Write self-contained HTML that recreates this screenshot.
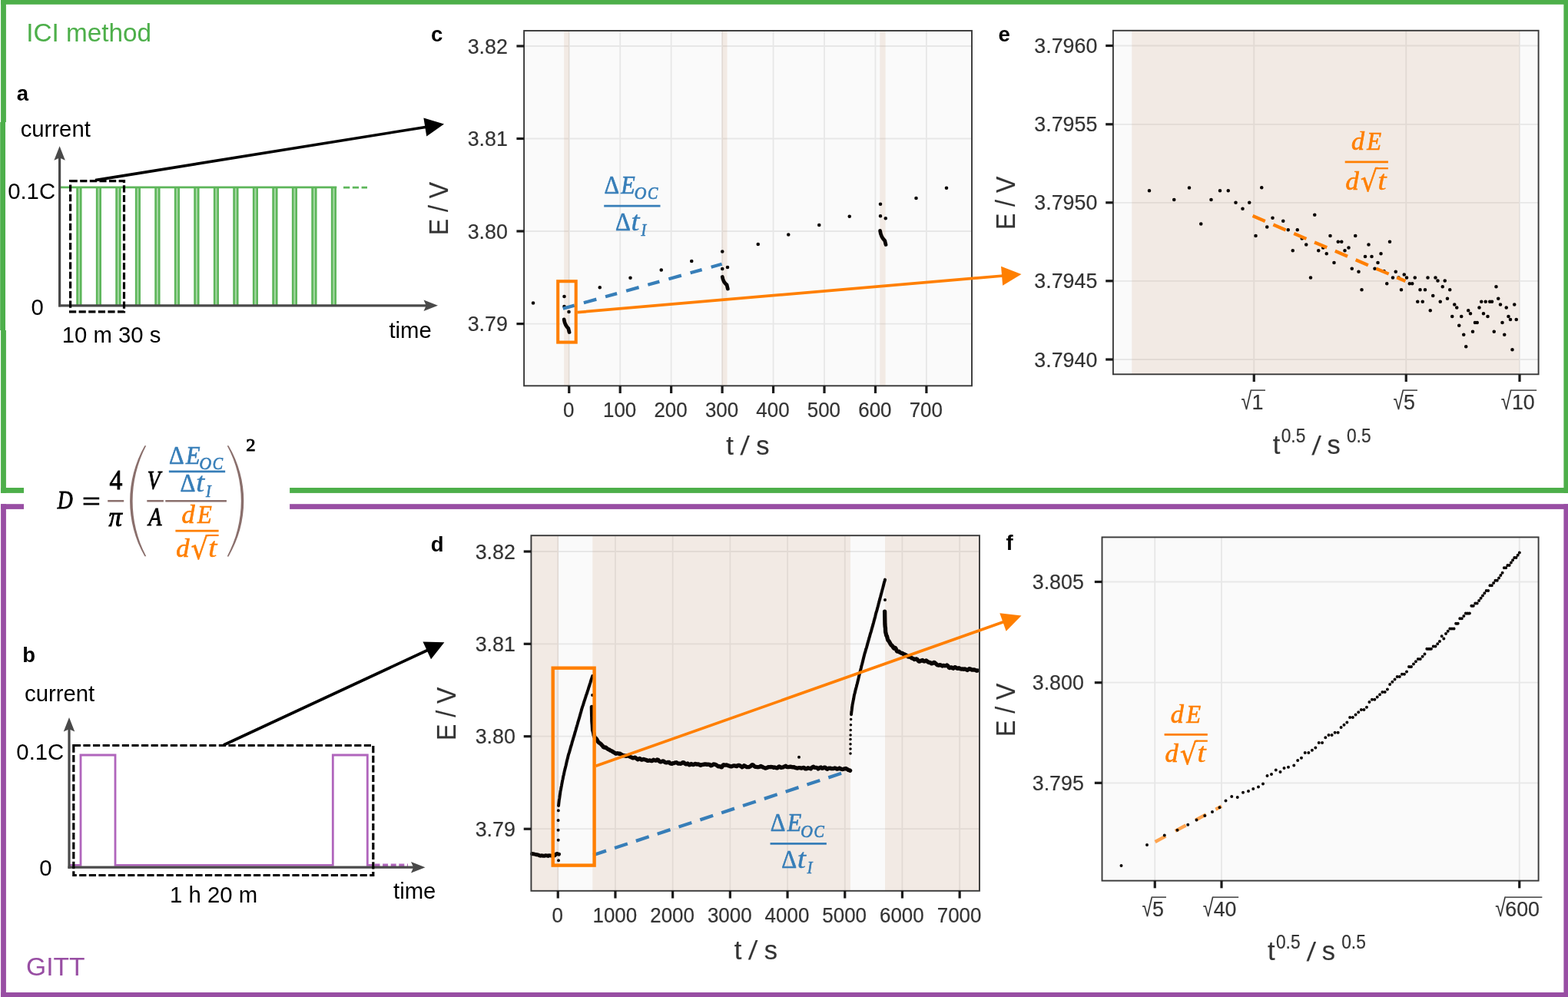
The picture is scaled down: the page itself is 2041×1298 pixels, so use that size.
<!DOCTYPE html>
<html lang="en">
<head>
<meta charset="utf-8">
<title>ICI method and GITT</title>
<style>
html,body{margin:0;padding:0;background:#fff;}
body{width:2041px;height:1298px;overflow:hidden;}
svg{display:block;}
text{white-space:pre;}
</style>
</head>
<body>
<svg width="2041" height="1298" viewBox="0 0 2041 1298" role="img" aria-label="ICI method and GITT diffusion coefficient figure">
<rect x="1.1" y="0" width="2039.9" height="5.8" fill="#4daf4a" />
<rect x="1.1" y="0" width="6.8" height="641.9" fill="#4daf4a" />
<rect x="2035.4" y="0" width="5.6" height="641.9" fill="#4daf4a" />
<rect x="1.1" y="635" width="2039.9" height="6.9" fill="#4daf4a" />
<rect x="1.1" y="656.2" width="2039.9" height="6.7" fill="#984ea3" />
<rect x="1.1" y="656.2" width="6.8" height="641.8" fill="#984ea3" />
<rect x="2035.4" y="656.2" width="5.6" height="641.8" fill="#984ea3" />
<rect x="1.1" y="1292" width="2039.9" height="6" fill="#984ea3" />
<rect x="0" y="159" width="9" height="271" fill="#fff" />
<rect x="0.2" y="159" width="6.8" height="271" fill="#4daf4a" />
<rect x="31" y="560" width="346.1" height="180" fill="#fff" />
<text x="34.13" y="54.1" font-family="'Liberation Sans', Arial, Helvetica, sans-serif" font-size="33.3" fill="#4daf4a" text-anchor="start" font-weight="normal" font-style="normal" >ICI method</text>
<text x="34.11" y="1270.3" font-family="'Liberation Sans', Arial, Helvetica, sans-serif" font-size="33.6" fill="#984ea3" text-anchor="start" font-weight="normal" font-style="normal" >GITT</text>
<defs><filter id="soft" x="-5%" y="-5%" width="110%" height="110%"><feGaussianBlur stdDeviation="0.55"/></filter></defs>
<g id="panel-a">
<text x="21.69" y="130.8" font-family="'Liberation Sans', Arial, Helvetica, sans-serif" font-size="27.5" fill="#000" text-anchor="start" font-weight="bold" font-style="normal" >a</text>
<text x="26.66" y="177.5" font-family="'Liberation Sans', Arial, Helvetica, sans-serif" font-size="29.3" fill="#000" text-anchor="start" font-weight="normal" font-style="normal" >current</text>
<text x="10.16" y="258.5" font-family="'Liberation Sans', Arial, Helvetica, sans-serif" font-size="29.3" fill="#000" text-anchor="start" font-weight="normal" font-style="normal" >0.1C</text>
<text x="40.56" y="410" font-family="'Liberation Sans', Arial, Helvetica, sans-serif" font-size="29.3" fill="#000" text-anchor="start" font-weight="normal" font-style="normal" >0</text>
<text x="80.77" y="446" font-family="'Liberation Sans', Arial, Helvetica, sans-serif" font-size="29.3" fill="#000" text-anchor="start" font-weight="normal" font-style="normal" >10 m 30 s</text>
<text x="506.46" y="440" font-family="'Liberation Sans', Arial, Helvetica, sans-serif" font-size="29.3" fill="#000" text-anchor="start" font-weight="normal" font-style="normal" >time</text>
<g filter="url(#soft)">
<rect x="99.5" y="244" width="6.8" height="153" fill="#a5d8a3" />
<line x1="100.6" y1="243.7" x2="100.6" y2="397" stroke="#5db65a" stroke-width="2.5" />
<line x1="105.2" y1="243.7" x2="105.2" y2="397" stroke="#5db65a" stroke-width="2.5" />
<rect x="125" y="244" width="6.8" height="153" fill="#a5d8a3" />
<line x1="126.1" y1="243.7" x2="126.1" y2="397" stroke="#5db65a" stroke-width="2.5" />
<line x1="130.7" y1="243.7" x2="130.7" y2="397" stroke="#5db65a" stroke-width="2.5" />
<rect x="150.5" y="244" width="6.8" height="153" fill="#a5d8a3" />
<line x1="151.6" y1="243.7" x2="151.6" y2="397" stroke="#5db65a" stroke-width="2.5" />
<line x1="156.2" y1="243.7" x2="156.2" y2="397" stroke="#5db65a" stroke-width="2.5" />
<rect x="176" y="244" width="6.8" height="153" fill="#a5d8a3" />
<line x1="177.1" y1="243.7" x2="177.1" y2="397" stroke="#5db65a" stroke-width="2.5" />
<line x1="181.7" y1="243.7" x2="181.7" y2="397" stroke="#5db65a" stroke-width="2.5" />
<rect x="201.5" y="244" width="6.8" height="153" fill="#a5d8a3" />
<line x1="202.6" y1="243.7" x2="202.6" y2="397" stroke="#5db65a" stroke-width="2.5" />
<line x1="207.2" y1="243.7" x2="207.2" y2="397" stroke="#5db65a" stroke-width="2.5" />
<rect x="227" y="244" width="6.8" height="153" fill="#a5d8a3" />
<line x1="228.1" y1="243.7" x2="228.1" y2="397" stroke="#5db65a" stroke-width="2.5" />
<line x1="232.7" y1="243.7" x2="232.7" y2="397" stroke="#5db65a" stroke-width="2.5" />
<rect x="252.5" y="244" width="6.8" height="153" fill="#a5d8a3" />
<line x1="253.6" y1="243.7" x2="253.6" y2="397" stroke="#5db65a" stroke-width="2.5" />
<line x1="258.2" y1="243.7" x2="258.2" y2="397" stroke="#5db65a" stroke-width="2.5" />
<rect x="278" y="244" width="6.8" height="153" fill="#a5d8a3" />
<line x1="279.1" y1="243.7" x2="279.1" y2="397" stroke="#5db65a" stroke-width="2.5" />
<line x1="283.7" y1="243.7" x2="283.7" y2="397" stroke="#5db65a" stroke-width="2.5" />
<rect x="303.5" y="244" width="6.8" height="153" fill="#a5d8a3" />
<line x1="304.6" y1="243.7" x2="304.6" y2="397" stroke="#5db65a" stroke-width="2.5" />
<line x1="309.2" y1="243.7" x2="309.2" y2="397" stroke="#5db65a" stroke-width="2.5" />
<rect x="329" y="244" width="6.8" height="153" fill="#a5d8a3" />
<line x1="330.1" y1="243.7" x2="330.1" y2="397" stroke="#5db65a" stroke-width="2.5" />
<line x1="334.7" y1="243.7" x2="334.7" y2="397" stroke="#5db65a" stroke-width="2.5" />
<rect x="354.5" y="244" width="6.8" height="153" fill="#a5d8a3" />
<line x1="355.6" y1="243.7" x2="355.6" y2="397" stroke="#5db65a" stroke-width="2.5" />
<line x1="360.2" y1="243.7" x2="360.2" y2="397" stroke="#5db65a" stroke-width="2.5" />
<rect x="380" y="244" width="6.8" height="153" fill="#a5d8a3" />
<line x1="381.1" y1="243.7" x2="381.1" y2="397" stroke="#5db65a" stroke-width="2.5" />
<line x1="385.7" y1="243.7" x2="385.7" y2="397" stroke="#5db65a" stroke-width="2.5" />
<rect x="405.5" y="244" width="6.8" height="153" fill="#a5d8a3" />
<line x1="406.6" y1="243.7" x2="406.6" y2="397" stroke="#5db65a" stroke-width="2.5" />
<line x1="411.2" y1="243.7" x2="411.2" y2="397" stroke="#5db65a" stroke-width="2.5" />
<rect x="431" y="244" width="6.8" height="153" fill="#a5d8a3" />
<line x1="432.1" y1="243.7" x2="432.1" y2="397" stroke="#5db65a" stroke-width="2.5" />
<line x1="436.7" y1="243.7" x2="436.7" y2="397" stroke="#5db65a" stroke-width="2.5" />
<line x1="79" y1="243.8" x2="438.3" y2="243.8" stroke="#5db65a" stroke-width="2.8" />
<line x1="447" y1="244.1" x2="478" y2="244.1" stroke="#5db65a" stroke-width="2.8" stroke-dasharray="8.3 3.5"/>
<line x1="77.6" y1="200" x2="77.6" y2="399.3" stroke="#4a4a4a" stroke-width="3.2" />
<line x1="76.1" y1="397.8" x2="560" y2="397.8" stroke="#4a4a4a" stroke-width="3.2" />
<polygon points="77.6,190.3 84.85,208.8 77.6,205.6 70.35,208.8" fill="#4a4a4a"/>
<polygon points="570,397.8 551.5,405.05 554.7,397.8 551.5,390.55" fill="#4a4a4a"/>
</g>
<rect x="91.6" y="235.6" width="69.9" height="170.2" fill="none" stroke="#000" stroke-width="3.2" stroke-dasharray="9.2 3.4"/>
<line x1="124" y1="234.6" x2="555.29" y2="165.16" stroke="#000" stroke-width="3.6" />
<polygon points="578,161.5 555.27,177.57 551.37,153.38" fill="#000"/>
</g>
<g id="panel-b">
<text x="29.19" y="861.7" font-family="'Liberation Sans', Arial, Helvetica, sans-serif" font-size="27.5" fill="#000" text-anchor="start" font-weight="bold" font-style="normal" >b</text>
<text x="32.06" y="912.5" font-family="'Liberation Sans', Arial, Helvetica, sans-serif" font-size="29.3" fill="#000" text-anchor="start" font-weight="normal" font-style="normal" >current</text>
<text x="21.36" y="989" font-family="'Liberation Sans', Arial, Helvetica, sans-serif" font-size="29.3" fill="#000" text-anchor="start" font-weight="normal" font-style="normal" >0.1C</text>
<text x="51.36" y="1139.5" font-family="'Liberation Sans', Arial, Helvetica, sans-serif" font-size="29.3" fill="#000" text-anchor="start" font-weight="normal" font-style="normal" >0</text>
<text x="221.07" y="1175.3" font-family="'Liberation Sans', Arial, Helvetica, sans-serif" font-size="29.3" fill="#000" text-anchor="start" font-weight="normal" font-style="normal" >1 h 20 m</text>
<text x="512.06" y="1170" font-family="'Liberation Sans', Arial, Helvetica, sans-serif" font-size="29.3" fill="#000" text-anchor="start" font-weight="normal" font-style="normal" >time</text>
<g filter="url(#soft)">
<polyline points="91,1126.4 105,1126.4 105,983 150,983 150,1126.4 433.3,1126.4 433.3,983 478.3,983 478.3,1126.4 486,1126.4" fill="none" stroke="#b065bc" stroke-width="2.8" stroke-linejoin="miter"/>
<line x1="487.5" y1="1126.2" x2="531" y2="1126.2" stroke="#b065bc" stroke-width="3.4" stroke-dasharray="7 3.6"/>
<line x1="90" y1="944" x2="90" y2="1130.7" stroke="#4a4a4a" stroke-width="3.2" />
<line x1="88.5" y1="1129.2" x2="544" y2="1129.2" stroke="#4a4a4a" stroke-width="3.2" />
<polygon points="90,934 97.25,952.5 90,949.3 82.75,952.5" fill="#4a4a4a"/>
<polygon points="553.5,1129.2 535,1136.45 538.2,1129.2 535,1121.95" fill="#4a4a4a"/>
</g>
<rect x="95.8" y="970.5" width="390" height="169" fill="none" stroke="#000" stroke-width="3.2" stroke-dasharray="9.2 3.4"/>
<line x1="291" y1="970" x2="557.55" y2="846" stroke="#000" stroke-width="3.7" />
<polygon points="578.4,836.3 561.01,858.18 550.46,835.51" fill="#000"/>
</g>
<g id="formula">
<text transform="translate(74.77,661.8) scale(0.807,1)" font-family="'Liberation Serif', 'DejaVu Serif', serif" font-size="34.3" font-style="italic" fill="#000" stroke="#000" stroke-width="0.9">D</text>
<text transform="translate(107.02,664.7) scale(1.152,1)" font-family="'Liberation Serif', 'DejaVu Serif', serif" font-size="36.5" font-style="normal" fill="#000" stroke="#000" stroke-width="0.9">=</text>
<text transform="translate(142.38,636.9) scale(0.961,1)" font-family="'Liberation Serif', 'DejaVu Serif', serif" font-size="35" font-style="normal" fill="#000" stroke="#000" stroke-width="0.9">4</text>
<line x1="140.2" y1="652.2" x2="161.2" y2="652.2" stroke="#8a6f6c" stroke-width="2.5" />
<text transform="translate(141.56,684.5) scale(0.987,1)" font-family="'Liberation Serif', 'DejaVu Serif', serif" font-size="35" font-style="italic" fill="#000" stroke="#000" stroke-width="0.9">π</text>
<path d="M188.35,580.3 C162.77,625.3 162.77,679.2 188.35,724.2 L190.25,724.2 C166.77,679.2 166.77,625.3 190.25,580.3 Z" fill="#8a6f6c"/>
<text transform="translate(191.82,636.2) scale(0.812,1)" font-family="'Liberation Serif', 'DejaVu Serif', serif" font-size="34" font-style="italic" fill="#000" stroke="#000" stroke-width="0.9">V</text>
<line x1="191.3" y1="652.2" x2="212.9" y2="652.2" stroke="#8a6f6c" stroke-width="2.5" />
<text transform="translate(193.21,684.4) scale(0.829,1)" font-family="'Liberation Serif', 'DejaVu Serif', serif" font-size="34" font-style="italic" fill="#000" stroke="#000" stroke-width="0.9">A</text>
<line x1="215.3" y1="652.2" x2="294.9" y2="652.2" stroke="#8a6f6c" stroke-width="2.5" />
<text transform="translate(220.05,603.9) scale(0.895,1)" font-family="'Liberation Serif', 'DejaVu Serif', serif" font-size="34" font-style="normal" fill="#377eb8" stroke="#377eb8" stroke-width="0.7">Δ</text>
<text transform="translate(242.02,603.9) scale(0.891,1)" font-family="'Liberation Serif', 'DejaVu Serif', serif" font-size="34" font-style="italic" fill="#377eb8" stroke="#377eb8" stroke-width="0.7">E</text>
<text transform="translate(259.48,611.1) scale(0.926,1)" font-family="'Liberation Serif', 'DejaVu Serif', serif" font-size="23.4" font-style="italic" fill="#377eb8" stroke="#377eb8" stroke-width="0.7">O</text>
<text transform="translate(276.74,611.1) scale(0.854,1)" font-family="'Liberation Serif', 'DejaVu Serif', serif" font-size="23.4" font-style="italic" fill="#377eb8" stroke="#377eb8" stroke-width="0.7">C</text>
<line x1="219.85" y1="613.9" x2="293.15" y2="613.9" stroke="#377eb8" stroke-width="2.7" />
<text transform="translate(234.59,640.05) scale(0.910,1)" font-family="'Liberation Serif', 'DejaVu Serif', serif" font-size="34" font-style="normal" fill="#377eb8" stroke="#377eb8" stroke-width="0.7">Δ</text>
<text transform="translate(255,640.05) scale(1.154,1)" font-family="'Liberation Serif', 'DejaVu Serif', serif" font-size="35" font-style="italic" fill="#377eb8" stroke="#377eb8" stroke-width="0.3">t</text>
<text transform="translate(268.07,646.95) scale(0.840,1)" font-family="'Liberation Serif', 'DejaVu Serif', serif" font-size="23.8" font-style="italic" fill="#377eb8" stroke="#377eb8" stroke-width="0.7">I</text>
<text transform="translate(236.62,681.3) scale(1.003,1)" font-family="'Liberation Serif', 'DejaVu Serif', serif" font-size="34" font-style="italic" fill="#ff7f00" stroke="#ff7f00" stroke-width="0.7">d</text>
<text transform="translate(256.98,681.3) scale(0.905,1)" font-family="'Liberation Serif', 'DejaVu Serif', serif" font-size="34" font-style="italic" fill="#ff7f00" stroke="#ff7f00" stroke-width="0.7">E</text>
<line x1="228.4" y1="691.1" x2="284.6" y2="691.1" stroke="#ff7f00" stroke-width="2.7" />
<text transform="translate(229.21,724.9) scale(1.015,1)" font-family="'Liberation Serif', 'DejaVu Serif', serif" font-size="34" font-style="italic" fill="#ff7f00" stroke="#ff7f00" stroke-width="0.7">d</text>
<text transform="translate(248.46,727.67) scale(0.921,1)" font-family="'DejaVu Sans', 'Liberation Sans', sans-serif" font-size="38.87" fill="#ff7f00" stroke="#ff7f00" stroke-width="0.5">√</text>
<line x1="269.7" y1="697" x2="284.6" y2="697" stroke="#ff7f00" stroke-width="2.2" />
<text transform="translate(271.07,724.9) scale(1.176,1)" font-family="'Liberation Serif', 'DejaVu Serif', serif" font-size="35" font-style="italic" fill="#ff7f00" stroke="#ff7f00" stroke-width="0.3">t</text>
<path d="M297.55,580.3 C323.93,625.3 323.93,679.4 297.55,724.4 L295.65,724.4 C319.93,679.4 319.93,625.3 295.65,580.3 Z" fill="#8a6f6c"/>
<text transform="translate(320.35,587.4) scale(1.095,1)" font-family="'Liberation Serif', 'DejaVu Serif', serif" font-size="22.6" font-style="normal" fill="#000" stroke="#000" stroke-width="0.8">2</text>
</g>
<g id="panel-c">
<text x="560.93" y="53.8" font-family="'Liberation Sans', Arial, Helvetica, sans-serif" font-size="27.5" fill="#000" text-anchor="start" font-weight="bold" font-style="normal" >c</text>
<rect x="682.1" y="40" width="582.9" height="462.3" fill="#fafafa" />
<line x1="740.75" y1="40" x2="740.75" y2="502.3" stroke="#e7e7e7" stroke-width="1.8" />
<line x1="807.2" y1="40" x2="807.2" y2="502.3" stroke="#e7e7e7" stroke-width="1.8" />
<line x1="873.65" y1="40" x2="873.65" y2="502.3" stroke="#e7e7e7" stroke-width="1.8" />
<line x1="940.1" y1="40" x2="940.1" y2="502.3" stroke="#e7e7e7" stroke-width="1.8" />
<line x1="1006.55" y1="40" x2="1006.55" y2="502.3" stroke="#e7e7e7" stroke-width="1.8" />
<line x1="1073" y1="40" x2="1073" y2="502.3" stroke="#e7e7e7" stroke-width="1.8" />
<line x1="1139.45" y1="40" x2="1139.45" y2="502.3" stroke="#e7e7e7" stroke-width="1.8" />
<line x1="1205.9" y1="40" x2="1205.9" y2="502.3" stroke="#e7e7e7" stroke-width="1.8" />
<line x1="682.1" y1="60" x2="1265" y2="60" stroke="#e7e7e7" stroke-width="1.8" />
<line x1="682.1" y1="180.5" x2="1265" y2="180.5" stroke="#e7e7e7" stroke-width="1.8" />
<line x1="682.1" y1="301" x2="1265" y2="301" stroke="#e7e7e7" stroke-width="1.8" />
<line x1="682.1" y1="421.6" x2="1265" y2="421.6" stroke="#e7e7e7" stroke-width="1.8" />
<rect x="734.2" y="40" width="6.8" height="462.3" fill="rgb(210,170,140)" fill-opacity="0.2"/>
<rect x="939.5" y="40" width="7" height="462.3" fill="rgb(210,170,140)" fill-opacity="0.2"/>
<rect x="1145.3" y="40" width="7.3" height="462.3" fill="rgb(210,170,140)" fill-opacity="0.2"/>
<path d="M691.7,394.5a2.3,2.3 0 1,0 4.6,0a2.3,2.3 0 1,0 -4.6,0zM732.2,386a2.3,2.3 0 1,0 4.6,0a2.3,2.3 0 1,0 -4.6,0zM732.2,399a2.3,2.3 0 1,0 4.6,0a2.3,2.3 0 1,0 -4.6,0zM738.2,406a2.3,2.3 0 1,0 4.6,0a2.3,2.3 0 1,0 -4.6,0zM778.45,374.25a2.3,2.3 0 1,0 4.6,0a2.3,2.3 0 1,0 -4.6,0zM818.2,361.75a2.3,2.3 0 1,0 4.6,0a2.3,2.3 0 1,0 -4.6,0zM858.45,351.5a2.3,2.3 0 1,0 4.6,0a2.3,2.3 0 1,0 -4.6,0zM897.95,340a2.3,2.3 0 1,0 4.6,0a2.3,2.3 0 1,0 -4.6,0zM937.95,327.5a2.3,2.3 0 1,0 4.6,0a2.3,2.3 0 1,0 -4.6,0zM937.95,350a2.3,2.3 0 1,0 4.6,0a2.3,2.3 0 1,0 -4.6,0zM944.7,348a2.3,2.3 0 1,0 4.6,0a2.3,2.3 0 1,0 -4.6,0zM984.45,318a2.3,2.3 0 1,0 4.6,0a2.3,2.3 0 1,0 -4.6,0zM1023.95,305.5a2.3,2.3 0 1,0 4.6,0a2.3,2.3 0 1,0 -4.6,0zM1063.95,293a2.3,2.3 0 1,0 4.6,0a2.3,2.3 0 1,0 -4.6,0zM1103.45,281.75a2.3,2.3 0 1,0 4.6,0a2.3,2.3 0 1,0 -4.6,0zM1143.7,265.75a2.3,2.3 0 1,0 4.6,0a2.3,2.3 0 1,0 -4.6,0zM1143.7,281.25a2.3,2.3 0 1,0 4.6,0a2.3,2.3 0 1,0 -4.6,0zM1150.45,284.25a2.3,2.3 0 1,0 4.6,0a2.3,2.3 0 1,0 -4.6,0zM1190.2,258a2.3,2.3 0 1,0 4.6,0a2.3,2.3 0 1,0 -4.6,0zM1229.7,244.75a2.3,2.3 0 1,0 4.6,0a2.3,2.3 0 1,0 -4.6,0z" fill="#0a0503"/>
<path d="M734.2,416 Q735.2,423.25 739.8,427.5 L741,432.5" fill="none" stroke="#0a0503" stroke-width="4.8" stroke-linecap="round" stroke-linejoin="round"/>
<path d="M940.3,360.5 Q941.3,367.25 946.1,371 L947.3,376" fill="none" stroke="#0a0503" stroke-width="4.8" stroke-linecap="round" stroke-linejoin="round"/>
<path d="M1145.6,300.5 Q1146.6,308.5 1151.8,313.5 L1153,318.5" fill="none" stroke="#0a0503" stroke-width="4.8" stroke-linecap="round" stroke-linejoin="round"/>
<rect x="682.1" y="40" width="582.9" height="462.3" fill="none" stroke="#383838" stroke-width="1.9"/>
<line x1="740.75" y1="502.3" x2="740.75" y2="512" stroke="#1a1a1a" stroke-width="3.2" />
<line x1="807.2" y1="502.3" x2="807.2" y2="512" stroke="#1a1a1a" stroke-width="3.2" />
<line x1="873.65" y1="502.3" x2="873.65" y2="512" stroke="#1a1a1a" stroke-width="3.2" />
<line x1="940.1" y1="502.3" x2="940.1" y2="512" stroke="#1a1a1a" stroke-width="3.2" />
<line x1="1006.55" y1="502.3" x2="1006.55" y2="512" stroke="#1a1a1a" stroke-width="3.2" />
<line x1="1073" y1="502.3" x2="1073" y2="512" stroke="#1a1a1a" stroke-width="3.2" />
<line x1="1139.45" y1="502.3" x2="1139.45" y2="512" stroke="#1a1a1a" stroke-width="3.2" />
<line x1="1205.9" y1="502.3" x2="1205.9" y2="512" stroke="#1a1a1a" stroke-width="3.2" />
<line x1="672.4" y1="60" x2="682.1" y2="60" stroke="#1a1a1a" stroke-width="3.2" />
<line x1="672.4" y1="180.5" x2="682.1" y2="180.5" stroke="#1a1a1a" stroke-width="3.2" />
<line x1="672.4" y1="301" x2="682.1" y2="301" stroke="#1a1a1a" stroke-width="3.2" />
<line x1="672.4" y1="421.6" x2="682.1" y2="421.6" stroke="#1a1a1a" stroke-width="3.2" />
<line x1="732.8" y1="401.8" x2="939.6" y2="343.8" stroke="#377eb8" stroke-width="4.3" stroke-dasharray="15.6 12.5 17.1 12.2"/>
<rect x="726.2" y="366.2" width="23.5" height="79.4" fill="none" stroke="#ff7f00" stroke-width="4.1"/>
<line x1="751.5" y1="406.6" x2="1306.09" y2="359.01" stroke="#ff7f00" stroke-width="3.7" />
<polygon points="1329.5,357 1305.16,371.63 1303.02,346.73" fill="#ff7f00"/>
<text transform="translate(786.4,252.2) scale(0.895,1)" font-family="'Liberation Serif', 'DejaVu Serif', serif" font-size="34" font-style="normal" fill="#377eb8" stroke="#377eb8" stroke-width="0.7">Δ</text>
<text transform="translate(808.37,252.2) scale(0.891,1)" font-family="'Liberation Serif', 'DejaVu Serif', serif" font-size="34" font-style="italic" fill="#377eb8" stroke="#377eb8" stroke-width="0.7">E</text>
<text transform="translate(825.83,259.4) scale(0.926,1)" font-family="'Liberation Serif', 'DejaVu Serif', serif" font-size="23.4" font-style="italic" fill="#377eb8" stroke="#377eb8" stroke-width="0.7">O</text>
<text transform="translate(843.09,259.4) scale(0.854,1)" font-family="'Liberation Serif', 'DejaVu Serif', serif" font-size="23.4" font-style="italic" fill="#377eb8" stroke="#377eb8" stroke-width="0.7">C</text>
<line x1="786.2" y1="268.1" x2="859.5" y2="268.1" stroke="#377eb8" stroke-width="2.7" />
<text transform="translate(800.94,299.8) scale(0.910,1)" font-family="'Liberation Serif', 'DejaVu Serif', serif" font-size="34" font-style="normal" fill="#377eb8" stroke="#377eb8" stroke-width="0.7">Δ</text>
<text transform="translate(821.35,299.8) scale(1.154,1)" font-family="'Liberation Serif', 'DejaVu Serif', serif" font-size="35" font-style="italic" fill="#377eb8" stroke="#377eb8" stroke-width="0.3">t</text>
<text transform="translate(834.42,306.7) scale(0.840,1)" font-family="'Liberation Serif', 'DejaVu Serif', serif" font-size="23.8" font-style="italic" fill="#377eb8" stroke="#377eb8" stroke-width="0.7">I</text>
<text x="660.8" y="69.5" font-family="'Liberation Sans', Arial, Helvetica, sans-serif" font-size="26.8" fill="#333333" text-anchor="end" font-weight="normal" font-style="normal" stroke="#333333" stroke-width="0.2">3.82</text>
<text x="660.8" y="190" font-family="'Liberation Sans', Arial, Helvetica, sans-serif" font-size="26.8" fill="#333333" text-anchor="end" font-weight="normal" font-style="normal" stroke="#333333" stroke-width="0.2">3.81</text>
<text x="660.8" y="310.5" font-family="'Liberation Sans', Arial, Helvetica, sans-serif" font-size="26.8" fill="#333333" text-anchor="end" font-weight="normal" font-style="normal" stroke="#333333" stroke-width="0.2">3.80</text>
<text x="660.8" y="431.1" font-family="'Liberation Sans', Arial, Helvetica, sans-serif" font-size="26.8" fill="#333333" text-anchor="end" font-weight="normal" font-style="normal" stroke="#333333" stroke-width="0.2">3.79</text>
<text transform="translate(740.15,543.1) scale(0.968,1)" font-family="'Liberation Sans', Arial, Helvetica, sans-serif" font-size="26.8" fill="#333333" text-anchor="middle" stroke="#333333" stroke-width="0.2">0</text>
<text transform="translate(806.6,543.1) scale(0.968,1)" font-family="'Liberation Sans', Arial, Helvetica, sans-serif" font-size="26.8" fill="#333333" text-anchor="middle" stroke="#333333" stroke-width="0.2">100</text>
<text transform="translate(873.05,543.1) scale(0.968,1)" font-family="'Liberation Sans', Arial, Helvetica, sans-serif" font-size="26.8" fill="#333333" text-anchor="middle" stroke="#333333" stroke-width="0.2">200</text>
<text transform="translate(939.5,543.1) scale(0.968,1)" font-family="'Liberation Sans', Arial, Helvetica, sans-serif" font-size="26.8" fill="#333333" text-anchor="middle" stroke="#333333" stroke-width="0.2">300</text>
<text transform="translate(1005.95,543.1) scale(0.968,1)" font-family="'Liberation Sans', Arial, Helvetica, sans-serif" font-size="26.8" fill="#333333" text-anchor="middle" stroke="#333333" stroke-width="0.2">400</text>
<text transform="translate(1072.4,543.1) scale(0.968,1)" font-family="'Liberation Sans', Arial, Helvetica, sans-serif" font-size="26.8" fill="#333333" text-anchor="middle" stroke="#333333" stroke-width="0.2">500</text>
<text transform="translate(1138.85,543.1) scale(0.968,1)" font-family="'Liberation Sans', Arial, Helvetica, sans-serif" font-size="26.8" fill="#333333" text-anchor="middle" stroke="#333333" stroke-width="0.2">600</text>
<text transform="translate(1205.3,543.1) scale(0.968,1)" font-family="'Liberation Sans', Arial, Helvetica, sans-serif" font-size="26.8" fill="#333333" text-anchor="middle" stroke="#333333" stroke-width="0.2">700</text>
<text transform="translate(583.3,306.29) rotate(-90) scale(0.914,1)" font-family="'Liberation Sans', Arial, Helvetica, sans-serif" font-size="35" fill="#333333" stroke="#333333" stroke-width="0.2">E / V</text>
<text transform="translate(945.18,591.5) scale(1.0,1)" font-family="'Liberation Sans', Arial, Helvetica, sans-serif" font-size="34.5" fill="#333333" stroke="#333333" stroke-width="0.2">t</text>
<text transform="translate(963.5,592) skewX(-6.2)" font-family="'Liberation Sans', Arial, Helvetica, sans-serif" font-size="34.5" fill="#333333" stroke="#333333" stroke-width="0.2">/</text>
<text transform="translate(984.34,591.5) scale(1.0,1)" font-family="'Liberation Sans', Arial, Helvetica, sans-serif" font-size="34.5" fill="#333333" stroke="#333333" stroke-width="0.2">s</text>
</g>
<g id="panel-e">
<text x="1299.43" y="53.8" font-family="'Liberation Sans', Arial, Helvetica, sans-serif" font-size="27.5" fill="#000" text-anchor="start" font-weight="bold" font-style="normal" >e</text>
<rect x="1448.9" y="39.8" width="553.7" height="447.5" fill="#fafafa" />
<line x1="1632.25" y1="39.8" x2="1632.25" y2="487.3" stroke="#e7e7e7" stroke-width="1.8" />
<line x1="1830.25" y1="39.8" x2="1830.25" y2="487.3" stroke="#e7e7e7" stroke-width="1.8" />
<line x1="1978" y1="39.8" x2="1978" y2="487.3" stroke="#e7e7e7" stroke-width="1.8" />
<line x1="1448.9" y1="59.5" x2="2002.6" y2="59.5" stroke="#e7e7e7" stroke-width="1.8" />
<line x1="1448.9" y1="161.8" x2="2002.6" y2="161.8" stroke="#e7e7e7" stroke-width="1.8" />
<line x1="1448.9" y1="263.8" x2="2002.6" y2="263.8" stroke="#e7e7e7" stroke-width="1.8" />
<line x1="1448.9" y1="365.8" x2="2002.6" y2="365.8" stroke="#e7e7e7" stroke-width="1.8" />
<line x1="1448.9" y1="468" x2="2002.6" y2="468" stroke="#e7e7e7" stroke-width="1.8" />
<rect x="1473.3" y="39.8" width="504.5" height="447.5" fill="rgb(210,170,140)" fill-opacity="0.2"/>
<path d="M1493.7,248.25a2.3,2.3 0 1,0 4.6,0a2.3,2.3 0 1,0 -4.6,0zM1525.95,260a2.3,2.3 0 1,0 4.6,0a2.3,2.3 0 1,0 -4.6,0zM1545.7,244.5a2.3,2.3 0 1,0 4.6,0a2.3,2.3 0 1,0 -4.6,0zM1560.95,291.5a2.3,2.3 0 1,0 4.6,0a2.3,2.3 0 1,0 -4.6,0zM1574.2,260a2.3,2.3 0 1,0 4.6,0a2.3,2.3 0 1,0 -4.6,0zM1585.7,248.25a2.3,2.3 0 1,0 4.6,0a2.3,2.3 0 1,0 -4.6,0zM1596.45,248.25a2.3,2.3 0 1,0 4.6,0a2.3,2.3 0 1,0 -4.6,0zM1606.2,263.75a2.3,2.3 0 1,0 4.6,0a2.3,2.3 0 1,0 -4.6,0zM1615.2,271.75a2.3,2.3 0 1,0 4.6,0a2.3,2.3 0 1,0 -4.6,0zM1623.95,263.75a2.3,2.3 0 1,0 4.6,0a2.3,2.3 0 1,0 -4.6,0zM1632.2,307a2.3,2.3 0 1,0 4.6,0a2.3,2.3 0 1,0 -4.6,0zM1639.95,244.25a2.3,2.3 0 1,0 4.6,0a2.3,2.3 0 1,0 -4.6,0zM1646.95,295.5a2.3,2.3 0 1,0 4.6,0a2.3,2.3 0 1,0 -4.6,0zM1654.2,283.75a2.3,2.3 0 1,0 4.6,0a2.3,2.3 0 1,0 -4.6,0zM1667.95,287.75a2.3,2.3 0 1,0 4.6,0a2.3,2.3 0 1,0 -4.6,0zM1674.45,299.25a2.3,2.3 0 1,0 4.6,0a2.3,2.3 0 1,0 -4.6,0zM1680.45,326.25a2.3,2.3 0 1,0 4.6,0a2.3,2.3 0 1,0 -4.6,0zM1686.45,299.25a2.3,2.3 0 1,0 4.6,0a2.3,2.3 0 1,0 -4.6,0zM1692.45,310.5a2.3,2.3 0 1,0 4.6,0a2.3,2.3 0 1,0 -4.6,0zM1697.95,318.5a2.3,2.3 0 1,0 4.6,0a2.3,2.3 0 1,0 -4.6,0zM1703.7,361.5a2.3,2.3 0 1,0 4.6,0a2.3,2.3 0 1,0 -4.6,0zM1708.95,279.75a2.3,2.3 0 1,0 4.6,0a2.3,2.3 0 1,0 -4.6,0zM1713.95,326.25a2.3,2.3 0 1,0 4.6,0a2.3,2.3 0 1,0 -4.6,0zM1719.95,322.5a2.3,2.3 0 1,0 4.6,0a2.3,2.3 0 1,0 -4.6,0zM1724.45,330.25a2.3,2.3 0 1,0 4.6,0a2.3,2.3 0 1,0 -4.6,0zM1729.2,307a2.3,2.3 0 1,0 4.6,0a2.3,2.3 0 1,0 -4.6,0zM1734.2,342a2.3,2.3 0 1,0 4.6,0a2.3,2.3 0 1,0 -4.6,0zM1739.45,314.75a2.3,2.3 0 1,0 4.6,0a2.3,2.3 0 1,0 -4.6,0zM1743.95,314.75a2.3,2.3 0 1,0 4.6,0a2.3,2.3 0 1,0 -4.6,0zM1748.2,326.25a2.3,2.3 0 1,0 4.6,0a2.3,2.3 0 1,0 -4.6,0zM1753.2,322.5a2.3,2.3 0 1,0 4.6,0a2.3,2.3 0 1,0 -4.6,0zM1757.45,349.75a2.3,2.3 0 1,0 4.6,0a2.3,2.3 0 1,0 -4.6,0zM1761.95,307a2.3,2.3 0 1,0 4.6,0a2.3,2.3 0 1,0 -4.6,0zM1766.2,353.75a2.3,2.3 0 1,0 4.6,0a2.3,2.3 0 1,0 -4.6,0zM1770.2,377.25a2.3,2.3 0 1,0 4.6,0a2.3,2.3 0 1,0 -4.6,0zM1774.7,334a2.3,2.3 0 1,0 4.6,0a2.3,2.3 0 1,0 -4.6,0zM1779.2,318.5a2.3,2.3 0 1,0 4.6,0a2.3,2.3 0 1,0 -4.6,0zM1783.2,334a2.3,2.3 0 1,0 4.6,0a2.3,2.3 0 1,0 -4.6,0zM1787.2,349.75a2.3,2.3 0 1,0 4.6,0a2.3,2.3 0 1,0 -4.6,0zM1791.2,342a2.3,2.3 0 1,0 4.6,0a2.3,2.3 0 1,0 -4.6,0zM1795.2,330.25a2.3,2.3 0 1,0 4.6,0a2.3,2.3 0 1,0 -4.6,0zM1799.2,353a2.3,2.3 0 1,0 4.6,0a2.3,2.3 0 1,0 -4.6,0zM1802.95,369.25a2.3,2.3 0 1,0 4.6,0a2.3,2.3 0 1,0 -4.6,0zM1806.7,314.75a2.3,2.3 0 1,0 4.6,0a2.3,2.3 0 1,0 -4.6,0zM1810.7,361.5a2.3,2.3 0 1,0 4.6,0a2.3,2.3 0 1,0 -4.6,0zM1814.45,353.75a2.3,2.3 0 1,0 4.6,0a2.3,2.3 0 1,0 -4.6,0zM1818.2,361.5a2.3,2.3 0 1,0 4.6,0a2.3,2.3 0 1,0 -4.6,0zM1821.7,377.25a2.3,2.3 0 1,0 4.6,0a2.3,2.3 0 1,0 -4.6,0zM1825.45,357.5a2.3,2.3 0 1,0 4.6,0a2.3,2.3 0 1,0 -4.6,0zM1828.7,361.5a2.3,2.3 0 1,0 4.6,0a2.3,2.3 0 1,0 -4.6,0zM1832.45,369.25a2.3,2.3 0 1,0 4.6,0a2.3,2.3 0 1,0 -4.6,0zM1835.95,369.25a2.3,2.3 0 1,0 4.6,0a2.3,2.3 0 1,0 -4.6,0zM1839.45,361.5a2.3,2.3 0 1,0 4.6,0a2.3,2.3 0 1,0 -4.6,0zM1842.95,392.75a2.3,2.3 0 1,0 4.6,0a2.3,2.3 0 1,0 -4.6,0zM1846.2,377.25a2.3,2.3 0 1,0 4.6,0a2.3,2.3 0 1,0 -4.6,0zM1849.45,392.75a2.3,2.3 0 1,0 4.6,0a2.3,2.3 0 1,0 -4.6,0zM1852.7,377.25a2.3,2.3 0 1,0 4.6,0a2.3,2.3 0 1,0 -4.6,0zM1856.2,361.5a2.3,2.3 0 1,0 4.6,0a2.3,2.3 0 1,0 -4.6,0zM1859.45,404.25a2.3,2.3 0 1,0 4.6,0a2.3,2.3 0 1,0 -4.6,0zM1862.95,385a2.3,2.3 0 1,0 4.6,0a2.3,2.3 0 1,0 -4.6,0zM1866.2,361.5a2.3,2.3 0 1,0 4.6,0a2.3,2.3 0 1,0 -4.6,0zM1869.2,365.5a2.3,2.3 0 1,0 4.6,0a2.3,2.3 0 1,0 -4.6,0zM1872.45,392.75a2.3,2.3 0 1,0 4.6,0a2.3,2.3 0 1,0 -4.6,0zM1875.45,373.25a2.3,2.3 0 1,0 4.6,0a2.3,2.3 0 1,0 -4.6,0zM1878.45,365.5a2.3,2.3 0 1,0 4.6,0a2.3,2.3 0 1,0 -4.6,0zM1881.7,388.75a2.3,2.3 0 1,0 4.6,0a2.3,2.3 0 1,0 -4.6,0zM1884.95,377.25a2.3,2.3 0 1,0 4.6,0a2.3,2.3 0 1,0 -4.6,0zM1887.95,412a2.3,2.3 0 1,0 4.6,0a2.3,2.3 0 1,0 -4.6,0zM1890.95,396.5a2.3,2.3 0 1,0 4.6,0a2.3,2.3 0 1,0 -4.6,0zM1893.95,400.5a2.3,2.3 0 1,0 4.6,0a2.3,2.3 0 1,0 -4.6,0zM1896.95,423.75a2.3,2.3 0 1,0 4.6,0a2.3,2.3 0 1,0 -4.6,0zM1899.95,412a2.3,2.3 0 1,0 4.6,0a2.3,2.3 0 1,0 -4.6,0zM1902.95,435.75a2.3,2.3 0 1,0 4.6,0a2.3,2.3 0 1,0 -4.6,0zM1905.95,451.25a2.3,2.3 0 1,0 4.6,0a2.3,2.3 0 1,0 -4.6,0zM1908.95,404.25a2.3,2.3 0 1,0 4.6,0a2.3,2.3 0 1,0 -4.6,0zM1911.7,408.25a2.3,2.3 0 1,0 4.6,0a2.3,2.3 0 1,0 -4.6,0zM1914.7,431.75a2.3,2.3 0 1,0 4.6,0a2.3,2.3 0 1,0 -4.6,0zM1917.7,420a2.3,2.3 0 1,0 4.6,0a2.3,2.3 0 1,0 -4.6,0zM1920.45,420a2.3,2.3 0 1,0 4.6,0a2.3,2.3 0 1,0 -4.6,0zM1923.2,400.5a2.3,2.3 0 1,0 4.6,0a2.3,2.3 0 1,0 -4.6,0zM1925.95,392.75a2.3,2.3 0 1,0 4.6,0a2.3,2.3 0 1,0 -4.6,0zM1928.7,408.25a2.3,2.3 0 1,0 4.6,0a2.3,2.3 0 1,0 -4.6,0zM1931.45,392.75a2.3,2.3 0 1,0 4.6,0a2.3,2.3 0 1,0 -4.6,0zM1934.2,412a2.3,2.3 0 1,0 4.6,0a2.3,2.3 0 1,0 -4.6,0zM1936.95,392.75a2.3,2.3 0 1,0 4.6,0a2.3,2.3 0 1,0 -4.6,0zM1939.7,392.75a2.3,2.3 0 1,0 4.6,0a2.3,2.3 0 1,0 -4.6,0zM1942.45,431.75a2.3,2.3 0 1,0 4.6,0a2.3,2.3 0 1,0 -4.6,0zM1945.2,373.25a2.3,2.3 0 1,0 4.6,0a2.3,2.3 0 1,0 -4.6,0zM1947.95,388.75a2.3,2.3 0 1,0 4.6,0a2.3,2.3 0 1,0 -4.6,0zM1950.7,396.5a2.3,2.3 0 1,0 4.6,0a2.3,2.3 0 1,0 -4.6,0zM1953.2,420a2.3,2.3 0 1,0 4.6,0a2.3,2.3 0 1,0 -4.6,0zM1955.95,435.75a2.3,2.3 0 1,0 4.6,0a2.3,2.3 0 1,0 -4.6,0zM1958.45,400.5a2.3,2.3 0 1,0 4.6,0a2.3,2.3 0 1,0 -4.6,0zM1961.2,412a2.3,2.3 0 1,0 4.6,0a2.3,2.3 0 1,0 -4.6,0zM1963.7,416a2.3,2.3 0 1,0 4.6,0a2.3,2.3 0 1,0 -4.6,0zM1966.2,455.25a2.3,2.3 0 1,0 4.6,0a2.3,2.3 0 1,0 -4.6,0zM1968.95,396.5a2.3,2.3 0 1,0 4.6,0a2.3,2.3 0 1,0 -4.6,0zM1971.45,416a2.3,2.3 0 1,0 4.6,0a2.3,2.3 0 1,0 -4.6,0z" fill="#0a0503"/>
<line x1="1630.6" y1="281.1" x2="1829.4" y2="365.9" stroke="#ff7f00" stroke-width="4.3" stroke-dasharray="17.6 11.55"/>
<text transform="translate(1758.92,195.4) scale(1.003,1)" font-family="'Liberation Serif', 'DejaVu Serif', serif" font-size="34" font-style="italic" fill="#ff7f00" stroke="#ff7f00" stroke-width="0.7">d</text>
<text transform="translate(1779.28,195.4) scale(0.905,1)" font-family="'Liberation Serif', 'DejaVu Serif', serif" font-size="34" font-style="italic" fill="#ff7f00" stroke="#ff7f00" stroke-width="0.7">E</text>
<line x1="1750.7" y1="210.85" x2="1806.9" y2="210.85" stroke="#ff7f00" stroke-width="2.7" />
<text transform="translate(1751.51,246.6) scale(1.015,1)" font-family="'Liberation Serif', 'DejaVu Serif', serif" font-size="34" font-style="italic" fill="#ff7f00" stroke="#ff7f00" stroke-width="0.7">d</text>
<text transform="translate(1770.77,249.38) scale(0.935,1)" font-family="'DejaVu Sans', 'Liberation Sans', sans-serif" font-size="38.26" fill="#ff7f00" stroke="#ff7f00" stroke-width="0.5">√</text>
<line x1="1792" y1="219.2" x2="1806.9" y2="219.2" stroke="#ff7f00" stroke-width="2.2" />
<text transform="translate(1793.37,246.6) scale(1.176,1)" font-family="'Liberation Serif', 'DejaVu Serif', serif" font-size="35" font-style="italic" fill="#ff7f00" stroke="#ff7f00" stroke-width="0.3">t</text>
<rect x="1448.9" y="39.8" width="553.7" height="447.5" fill="none" stroke="#383838" stroke-width="1.9"/>
<line x1="1632.25" y1="487.3" x2="1632.25" y2="497" stroke="#1a1a1a" stroke-width="3.2" />
<line x1="1830.25" y1="487.3" x2="1830.25" y2="497" stroke="#1a1a1a" stroke-width="3.2" />
<line x1="1978" y1="487.3" x2="1978" y2="497" stroke="#1a1a1a" stroke-width="3.2" />
<line x1="1439.2" y1="59.5" x2="1448.9" y2="59.5" stroke="#1a1a1a" stroke-width="3.2" />
<line x1="1439.2" y1="161.8" x2="1448.9" y2="161.8" stroke="#1a1a1a" stroke-width="3.2" />
<line x1="1439.2" y1="263.8" x2="1448.9" y2="263.8" stroke="#1a1a1a" stroke-width="3.2" />
<line x1="1439.2" y1="365.8" x2="1448.9" y2="365.8" stroke="#1a1a1a" stroke-width="3.2" />
<line x1="1439.2" y1="468" x2="1448.9" y2="468" stroke="#1a1a1a" stroke-width="3.2" />
<text x="1428.3" y="69" font-family="'Liberation Sans', Arial, Helvetica, sans-serif" font-size="26.8" fill="#333333" text-anchor="end" font-weight="normal" font-style="normal" stroke="#333333" stroke-width="0.2">3.7960</text>
<text x="1428.3" y="171.3" font-family="'Liberation Sans', Arial, Helvetica, sans-serif" font-size="26.8" fill="#333333" text-anchor="end" font-weight="normal" font-style="normal" stroke="#333333" stroke-width="0.2">3.7955</text>
<text x="1428.3" y="273.3" font-family="'Liberation Sans', Arial, Helvetica, sans-serif" font-size="26.8" fill="#333333" text-anchor="end" font-weight="normal" font-style="normal" stroke="#333333" stroke-width="0.2">3.7950</text>
<text x="1428.3" y="375.3" font-family="'Liberation Sans', Arial, Helvetica, sans-serif" font-size="26.8" fill="#333333" text-anchor="end" font-weight="normal" font-style="normal" stroke="#333333" stroke-width="0.2">3.7945</text>
<text x="1428.3" y="477.5" font-family="'Liberation Sans', Arial, Helvetica, sans-serif" font-size="26.8" fill="#333333" text-anchor="end" font-weight="normal" font-style="normal" stroke="#333333" stroke-width="0.2">3.7940</text>
<text transform="translate(1615.56,532.83) scale(0.779,1)" font-family="'Liberation Sans', Arial, Helvetica, sans-serif" font-size="32.21" fill="#333333" stroke="#333333" stroke-width="0.1">√</text>
<line x1="1628.45" y1="508.1" x2="1646.95" y2="508.1" stroke="#5a5a5a" stroke-width="1.8" />
<text x="1629.61" y="532.5" font-family="'Liberation Sans', Arial, Helvetica, sans-serif" font-size="26.8" fill="#333333" text-anchor="start" font-weight="normal" font-style="normal" stroke="#333333" stroke-width="0.2">1</text>
<text transform="translate(1813.56,532.83) scale(0.779,1)" font-family="'Liberation Sans', Arial, Helvetica, sans-serif" font-size="32.21" fill="#333333" stroke="#333333" stroke-width="0.1">√</text>
<line x1="1826.45" y1="508.1" x2="1844.95" y2="508.1" stroke="#5a5a5a" stroke-width="1.8" />
<text x="1826.98" y="532.5" font-family="'Liberation Sans', Arial, Helvetica, sans-serif" font-size="26.8" fill="#333333" text-anchor="start" font-weight="normal" font-style="normal" stroke="#333333" stroke-width="0.2">5</text>
<text transform="translate(1953.86,532.83) scale(0.779,1)" font-family="'Liberation Sans', Arial, Helvetica, sans-serif" font-size="32.21" fill="#333333" stroke="#333333" stroke-width="0.1">√</text>
<line x1="1966.75" y1="508.1" x2="2000.15" y2="508.1" stroke="#5a5a5a" stroke-width="1.8" />
<text x="1967.91" y="532.5" font-family="'Liberation Sans', Arial, Helvetica, sans-serif" font-size="26.8" fill="#333333" text-anchor="start" font-weight="normal" font-style="normal" stroke="#333333" stroke-width="0.2">10</text>
<text transform="translate(1321,299.09) rotate(-90) scale(0.914,1)" font-family="'Liberation Sans', Arial, Helvetica, sans-serif" font-size="35" fill="#333333" stroke="#333333" stroke-width="0.2">E / V</text>
<text transform="translate(1656.73,591.3) scale(1.0,1)" font-family="'Liberation Sans', Arial, Helvetica, sans-serif" font-size="34.5" fill="#333333" stroke="#333333" stroke-width="0.2">t</text>
<text transform="translate(1667.66,576) scale(0.89,1)" font-family="'Liberation Sans', Arial, Helvetica, sans-serif" font-size="25.6" fill="#333333" stroke="#333333" stroke-width="0.2">0.5</text>
<text transform="translate(1707.45,591.8) skewX(-6.2)" font-family="'Liberation Sans', Arial, Helvetica, sans-serif" font-size="34.5" fill="#333333" stroke="#333333" stroke-width="0.2">/</text>
<text transform="translate(1727.49,591.3) scale(1.0,1)" font-family="'Liberation Sans', Arial, Helvetica, sans-serif" font-size="34.5" fill="#333333" stroke="#333333" stroke-width="0.2">s</text>
<text transform="translate(1752.96,576) scale(0.89,1)" font-family="'Liberation Sans', Arial, Helvetica, sans-serif" font-size="25.6" fill="#333333" stroke="#333333" stroke-width="0.2">0.5</text>
</g>
<g id="panel-d">
<text x="560.87" y="717.5" font-family="'Liberation Sans', Arial, Helvetica, sans-serif" font-size="27.5" fill="#000" text-anchor="start" font-weight="bold" font-style="normal" >d</text>
<rect x="691.4" y="697.2" width="583.55" height="462.6" fill="#fafafa" />
<line x1="726.25" y1="697.2" x2="726.25" y2="1159.8" stroke="#e7e7e7" stroke-width="1.8" />
<line x1="800.95" y1="697.2" x2="800.95" y2="1159.8" stroke="#e7e7e7" stroke-width="1.8" />
<line x1="875.65" y1="697.2" x2="875.65" y2="1159.8" stroke="#e7e7e7" stroke-width="1.8" />
<line x1="950.35" y1="697.2" x2="950.35" y2="1159.8" stroke="#e7e7e7" stroke-width="1.8" />
<line x1="1025.05" y1="697.2" x2="1025.05" y2="1159.8" stroke="#e7e7e7" stroke-width="1.8" />
<line x1="1099.75" y1="697.2" x2="1099.75" y2="1159.8" stroke="#e7e7e7" stroke-width="1.8" />
<line x1="1174.45" y1="697.2" x2="1174.45" y2="1159.8" stroke="#e7e7e7" stroke-width="1.8" />
<line x1="1249.15" y1="697.2" x2="1249.15" y2="1159.8" stroke="#e7e7e7" stroke-width="1.8" />
<line x1="691.4" y1="718" x2="1274.95" y2="718" stroke="#e7e7e7" stroke-width="1.8" />
<line x1="691.4" y1="838.3" x2="1274.95" y2="838.3" stroke="#e7e7e7" stroke-width="1.8" />
<line x1="691.4" y1="958.7" x2="1274.95" y2="958.7" stroke="#e7e7e7" stroke-width="1.8" />
<line x1="691.4" y1="1079.2" x2="1274.95" y2="1079.2" stroke="#e7e7e7" stroke-width="1.8" />
<rect x="691.4" y="697.2" width="35.6" height="462.6" fill="rgb(210,170,140)" fill-opacity="0.2"/>
<rect x="771.3" y="697.2" width="335.7" height="462.6" fill="rgb(210,170,140)" fill-opacity="0.2"/>
<rect x="1152" y="697.2" width="122.95" height="462.6" fill="rgb(210,170,140)" fill-opacity="0.2"/>
<polyline points="692.5,1111.59 693.71,1111.77 694.91,1111.8 696.12,1112.14 697.32,1112.4 698.53,1112.75 699.73,1112.83 700.98,1113.16 702.25,1113.79 703.51,1114.24 704.77,1113.84 706.04,1113.99 707.3,1114.31 708.57,1114.33 709.83,1113.81 711.1,1113.85 712.36,1114.07 713.62,1114.47 714.89,1113.67 716.15,1113.85 717.42,1114.03 718.68,1114.12 719.94,1114.06 721.2,1114.09 722.46,1113.34 723.72,1112.22 724.98,1111.42 726.24,1111.87 727.5,1112.21" fill="none" stroke="#0a0503" stroke-width="5.0" stroke-linecap="round" stroke-linejoin="round"/>
<path d="M725,1120.3a2,2 0 1,0 4,0a2,2 0 1,0 -4,0zM724.7,1093.8a2,2 0 1,0 4,0a2,2 0 1,0 -4,0zM724.6,1080.8a2,2 0 1,0 4,0a2,2 0 1,0 -4,0zM724.6,1068a2,2 0 1,0 4,0a2,2 0 1,0 -4,0zM724.8,1055.3a2,2 0 1,0 4,0a2,2 0 1,0 -4,0z" fill="#0a0503"/>
<polyline points="727,1048.88 727.14,1047.76 727.28,1046.5 727.41,1045.32 727.55,1043.9 727.69,1042.7 727.83,1041.38 728.01,1040.48 728.18,1039.58 728.35,1038.46 728.52,1037.14 728.69,1035.8 728.87,1034.65 729.07,1033.33 729.26,1031.95 729.45,1030.51 729.64,1029.41 729.83,1028.63 730.03,1027.67 730.26,1026.34 730.49,1025.09 730.72,1023.97 730.95,1022.78 731.18,1021.43 731.42,1020.21 731.65,1018.97 731.88,1017.62 732.11,1016.45 732.34,1015.34 732.57,1014.36 732.8,1013.13 733.04,1011.73 733.31,1010.38 733.58,1009.44 733.86,1008.44 734.13,1007.13 734.4,1005.67 734.68,1004.41 734.95,1003.29 735.22,1002.13 735.5,1001.15 735.77,1000.04 736.04,998.92 736.32,997.75 736.59,996.76 736.86,995.55 737.14,994.22 737.41,992.98 737.7,991.81 737.99,990.42 738.29,989.18 738.58,988.17 738.88,987.2 739.17,985.87 739.47,984.55 739.76,983.3 740.06,982.17 740.41,981.15 740.75,980.22 741.09,979.15 741.44,977.89 741.78,976.64 742.12,975.42 742.46,974.18 742.81,972.89 743.15,971.7 743.49,970.76 743.84,969.81 744.18,968.57 744.52,967.12 744.86,965.8 745.21,964.69 745.55,963.63 745.89,962.42 746.24,961.21 746.58,960.01 746.92,959.07 747.26,957.94 747.61,956.94 747.94,955.65 748.28,954.38 748.62,953.09 748.96,952.07 749.3,951.01 749.63,949.69 749.97,948.39 750.31,947.21 750.65,946.11 750.99,944.86 751.33,943.84 751.66,942.75 752,941.5 752.34,940.22 752.68,939.14 753.02,938.03 753.36,936.87 753.69,935.76 754.03,934.63 754.37,933.47 754.71,932.3 755.05,931.03 755.39,929.71 755.72,928.48 756.06,927.38 756.4,926.18 756.74,924.85 757.08,923.65 757.42,922.52 757.78,921.31 758.15,920.16 758.52,919.13 758.9,918.16 759.27,916.96 759.64,915.73 760.02,914.4 760.39,913.24 760.76,912.18 761.13,911.07 761.51,909.92 761.88,908.67 762.25,907.55 762.63,906.3 763,905.21 763.37,904.16 763.74,903.29 764.12,902.32 764.49,900.98 764.86,899.7 765.24,898.56 765.61,897.65 765.98,896.33 766.35,895.05 766.73,894.01 767.1,892.85 767.47,891.6 767.84,890.43 768.22,889.37 768.59,888.16 768.96,886.85 769.34,885.63 769.71,884.36 770.08,883.32 770.45,882.25 770.83,881.25 771.2,880.11" fill="none" stroke="#0a0503" stroke-width="4.0" stroke-linecap="round" stroke-linejoin="round"/>
<path d="M769.1,905a1.9,1.9 0 1,0 3.8,0a1.9,1.9 0 1,0 -3.8,0z" fill="#0a0503"/>
<polyline points="770.4,920.46 770.43,922.15 770.46,924.08 770.49,924.77 770.51,925.61 770.54,926.67 770.57,928.39 770.6,929.57 770.63,931.42 770.66,932.64 770.68,932.87 770.71,932.81 770.74,934.31 770.77,936.41 770.8,938.47 770.87,939.68 770.95,940.57 771.03,941.62 771.11,942.64 771.19,943.09 771.27,944.52 771.35,945.82 771.43,947.56 771.51,948.65 771.59,950.7 771.82,950.87 772.05,951.85 772.29,952.76 772.53,953.76 772.76,954.42 773,956.6 773.58,958.44 774.15,959.9 774.73,960.54 775.31,961.25 775.89,961.59 776.63,962.46 777.41,963.78 778.19,965.14 778.97,966.26 779.75,966.82 780.54,967.48 781.5,968.03 782.47,968.98 783.44,970.13 784.4,971.01 785.37,972.43 786.34,973.03 787.31,973.34 788.27,972.98 789.26,973.66 790.34,974.68 791.42,975.42 792.5,975.74 793.58,976.38 794.66,977.25 795.74,977.49 796.82,978.08 797.91,978.88 799.04,979.55 800.17,980.08 801.3,981.01 802.43,981.14 803.56,980.7 804.69,980.77 805.82,981.37 806.95,981.2 808.08,981.78 809.21,982.67 810.34,983.96 811.5,983.41 812.67,983.93 813.85,984 815.03,984.44 816.2,983.72 817.38,983.98 818.55,984.36 819.73,985.09 820.91,985.6 822.08,986.06 823.26,986.73 824.43,986.76 825.61,986.43 826.78,986.24 827.96,987.06 829.15,988.19 830.35,988.77 831.54,987.96 832.73,987.46 833.92,988.17 835.12,989.2 836.31,988.85 837.5,988.5 838.7,988.56 839.89,989.08 841.08,989.28 842.27,990.12 843.47,990.42 844.66,990.2 845.85,989.91 847.04,990.43 848.24,990.71 849.43,990.29 850.63,989.17 851.83,989.62 853.03,990.1 854.23,990.1 855.43,988.98 856.63,989.29 857.82,990.74 859.02,991.64 860.22,991.93 861.42,991.4 862.62,990.83 863.82,991.08 865.02,992.11 866.22,992.69 867.42,992.9 868.62,992.63 869.82,992.31 871.02,992.4 872.22,993.8 873.42,994.2 874.62,994.34 875.82,993.71 877.02,993.63 878.22,993.13 879.42,992.77 880.62,992.66 881.83,993.42 883.03,994.17 884.23,994 885.43,994.28 886.63,994.14 887.84,993.34 889.04,992.6 890.24,992.83 891.44,993.96 892.64,994.77 893.84,994.86 895.05,994.04 896.25,995.16 897.45,995.81 898.65,995.39 899.85,994.47 901.06,995.16 902.26,995.64 903.47,995.17 904.67,994.38 905.88,994.55 907.08,995.16 908.28,994.95 909.49,995.02 910.69,995.76 911.9,996.31 913.1,995.68 914.31,995.52 915.51,995.46 916.72,994.98 917.92,994.98 919.12,994.96 920.33,995.46 921.53,995.07 922.74,995.41 923.94,995.43 925.15,996.74 926.35,996.67 927.55,995.86 928.76,994.92 929.96,995.05 931.17,995.37 932.37,995.91 933.58,996.83 934.78,997.81 935.99,997.53 937.19,998 938.39,998.62 939.6,998.8 940.8,996.65 942.01,995.63 943.21,996.08 944.42,996.15 945.62,995.96 946.82,996.22 948.03,996.83 949.23,997.02 950.44,997.72 951.64,997.93 952.85,997.61 954.05,997.1 955.26,996.9 956.46,996.86 957.67,997.47 958.87,997.65 960.08,996.65 961.28,996.5 962.49,996.49 963.69,997.16 964.9,997.88 966.1,998.75 967.31,998.04 968.51,996.66 969.72,997.12 970.92,997.96 972.13,998.62 973.34,998.64 974.54,998.71 975.75,998.29 976.95,997.56 978.16,996.33 979.36,995.62 980.57,996.2 981.77,997.56 982.98,998.33 984.18,998.42 985.39,998.52 986.59,998.74 987.8,998.56 989,998.21 990.21,997.38 991.41,997.97 992.62,998.47 993.82,999.21 995.03,999.52 996.23,1000.1 997.44,999.86 998.64,999.46 999.85,998.62 1001.05,998.55 1002.26,998.57 1003.46,998.48 1004.67,998.63 1005.87,998.71 1007.08,999.36 1008.29,998.88 1009.49,999.43 1010.7,999.88 1011.9,999.78 1013.11,998.55 1014.31,997.92 1015.52,998.78 1016.72,999.38 1017.93,999.06 1019.13,998.91 1020.34,998.14 1021.55,997.73 1022.75,997.29 1023.96,998.42 1025.16,998.63 1026.37,998.62 1027.57,998.35 1028.78,998.18 1029.98,998.49 1031.19,998.58 1032.39,998.94 1033.6,998.73 1034.8,999.33 1036.01,999.67 1037.22,1000.05 1038.42,999.99 1039.63,999.73 1040.83,999.61 1042.04,999.76 1043.24,1000.19 1044.45,999.83 1045.65,999.46 1046.86,999.67 1048.06,1000.85 1049.27,1000.9 1050.48,1000.44 1051.68,999.64 1052.89,1000.18 1054.09,1000.32 1055.3,1000.85 1056.5,999.56 1057.71,998.68 1058.91,998.19 1060.12,999.21 1061.32,999.3 1062.53,999.38 1063.73,999.73 1064.94,1000.95 1066.15,1000.28 1067.35,999.3 1068.56,999.03 1069.76,1000.24 1070.97,1000.21 1072.17,999.54 1073.38,999.06 1074.58,999.56 1075.79,1000.74 1076.99,1001.22 1078.2,1000.51 1079.4,1000.03 1080.61,1000.04 1081.82,1000.56 1083.02,1000.7 1084.23,1000.52 1085.43,1000.31 1086.64,999.93 1087.84,1000.34 1089.05,1001.01 1090.25,1001.08 1091.46,1000.64 1092.66,1000.03 1093.87,1000.74 1095.08,1001.22 1096.28,1001.52 1097.49,1001.37 1098.69,1001.03 1099.9,1000.71 1101.02,1000.49 1102.14,1001.07 1103.25,1001.71 1104.37,1002.42 1105.48,1002.76 1106.6,1003.24" fill="none" stroke="#0a0503" stroke-width="5.3" stroke-linecap="round" stroke-linejoin="round"/>
<path d="M1038,985.8a2,2 0 1,0 4,0a2,2 0 1,0 -4,0z" fill="#0a0503"/>
<path d="M1105.2,981a1.8,1.8 0 1,0 3.6,0a1.8,1.8 0 1,0 -3.6,0zM1105.2,975a1.8,1.8 0 1,0 3.6,0a1.8,1.8 0 1,0 -3.6,0zM1105.2,968.8a1.8,1.8 0 1,0 3.6,0a1.8,1.8 0 1,0 -3.6,0zM1105.2,962.5a1.8,1.8 0 1,0 3.6,0a1.8,1.8 0 1,0 -3.6,0zM1105.3,957a1.8,1.8 0 1,0 3.6,0a1.8,1.8 0 1,0 -3.6,0zM1105.4,950.5a1.8,1.8 0 1,0 3.6,0a1.8,1.8 0 1,0 -3.6,0zM1105.6,943.8a1.8,1.8 0 1,0 3.6,0a1.8,1.8 0 1,0 -3.6,0zM1105.8,936.5a1.8,1.8 0 1,0 3.6,0a1.8,1.8 0 1,0 -3.6,0z" fill="#0a0503"/>
<polyline points="1108,930.18 1108.15,928.94 1108.3,927.49 1108.45,926.23 1108.6,925.24 1108.75,924.16 1108.9,922.73 1109.06,921.41 1109.21,920.41 1109.36,919.19 1109.51,917.9 1109.74,916.61 1109.97,915.48 1110.2,914.28 1110.43,913.03 1110.66,911.89 1110.89,910.82 1111.12,909.79 1111.35,908.46 1111.58,906.95 1111.81,905.6 1112.05,904.34 1112.34,903.45 1112.64,902.46 1112.93,901.3 1113.22,899.84 1113.52,898.58 1113.81,897.47 1114.11,896.31 1114.4,895.35 1114.7,894.23 1114.99,893.02 1115.29,891.72 1115.58,890.77 1115.88,889.81 1116.17,888.56 1116.47,887.22 1116.76,885.95 1117.06,884.86 1117.35,883.7 1117.65,882.41 1117.94,881.03 1118.24,879.84 1118.53,878.68 1118.82,877.7 1119.12,876.58 1119.41,875.38 1119.71,874.02 1120,872.81 1120.3,871.71 1120.59,870.65 1120.89,869.42 1121.18,868.01 1121.48,866.77 1121.77,865.77 1122.07,864.76 1122.36,863.6 1122.66,862.43 1122.95,861.29 1123.25,860.02 1123.54,858.81 1123.84,857.51 1124.13,856.29 1124.42,855.15 1124.72,854.15 1125.02,852.89 1125.35,851.49 1125.68,850.32 1126.01,849.47 1126.34,848.36 1126.68,847.1 1127.01,845.72 1127.34,844.8 1127.67,843.81 1128,842.79 1128.34,841.46 1128.67,840.33 1129,839.14 1129.33,837.87 1129.67,836.66 1130,835.48 1130.33,834.43 1130.66,833.17 1130.99,831.88 1131.33,830.66 1131.66,829.71 1131.99,828.62 1132.32,827.3 1132.65,825.97 1132.99,824.77 1133.32,823.82 1133.65,822.81 1133.98,821.77 1134.31,820.47 1134.65,819.14 1134.98,817.94 1135.31,816.95 1135.64,815.89 1135.97,814.58 1136.31,813.35 1136.64,812.12 1136.97,810.98 1137.3,809.69 1137.63,808.42 1137.94,807.22 1138.25,806.18 1138.56,805.26 1138.88,804.06 1139.19,802.79 1139.5,801.35 1139.81,800 1140.13,798.64 1140.44,797.61 1140.75,796.57 1141.06,795.61 1141.38,794.59 1141.69,793.5 1142,792.32 1142.31,791.1 1142.63,790.01 1142.94,788.69 1143.25,787.54 1143.56,786.22 1143.88,785.06 1144.19,783.81 1144.5,782.67 1144.81,781.51 1145.13,780.42 1145.44,779.23 1145.75,778.06 1146.06,776.97 1146.38,775.68 1146.69,774.42 1147,773.29 1147.31,772.18 1147.63,770.95 1147.94,769.63 1148.25,768.6 1148.56,767.45 1148.88,766.34 1149.19,765.15 1149.5,764.02 1149.81,762.87 1150.13,761.51 1150.44,760.25 1150.75,758.91 1151.06,757.79 1151.38,756.79 1151.69,755.8 1152,754.62" fill="none" stroke="#0a0503" stroke-width="4.0" stroke-linecap="round" stroke-linejoin="round"/>
<path d="M1150,781a2,2 0 1,0 4,0a2,2 0 1,0 -4,0z" fill="#0a0503"/>
<polyline points="1151.6,796.06 1151.62,796.68 1151.65,797.38 1151.67,799.28 1151.69,801.11 1151.71,802.47 1151.74,803.65 1151.76,804.75 1151.78,805.86 1151.8,807.35 1151.83,808.57 1151.85,809.62 1151.87,811.05 1151.9,812.72 1151.97,813.93 1152.06,814.36 1152.15,816.12 1152.25,816.51 1152.34,816.97 1152.43,817.15 1152.52,819.87 1152.61,822.01 1152.7,823.37 1152.79,823.36 1153.1,824.41 1153.43,825.93 1153.77,827.3 1154.1,827.63 1154.44,828.22 1154.82,829.77 1155.34,831.74 1155.86,833.31 1156.39,834.23 1156.91,834.48 1157.43,835.36 1157.96,836.34 1158.74,837.83 1159.54,839.04 1160.35,840.15 1161.15,840.49 1161.95,841.56 1162.76,843.13 1163.59,844.08 1164.52,843.17 1165.45,843.49 1166.38,845.15 1167.3,847.62 1168.23,848.22 1169.19,848.23 1170.26,848.2 1171.33,849.39 1172.4,849.92 1173.47,850.36 1174.54,850.38 1175.61,851.41 1176.7,851.53 1177.83,852.24 1178.96,852.64 1180.09,853.48 1181.21,854.02 1182.34,855.2 1183.47,855.15 1184.6,855.41 1185.73,855.97 1186.88,856.84 1188.04,857.25 1189.2,857.68 1190.36,858.51 1191.52,858.23 1192.68,857.93 1193.83,858.23 1194.99,859.94 1196.15,861.01 1197.31,861.04 1198.48,860.37 1199.65,859.72 1200.83,859.47 1202,860.68 1203.18,860.99 1204.36,860.75 1205.53,859.89 1206.71,860.77 1207.89,861.86 1209.06,862.52 1210.24,862.33 1211.42,862.91 1212.59,863.89 1213.77,863.67 1214.95,862.79 1216.12,862.32 1217.3,863.31 1218.47,864.19 1219.65,865.47 1220.84,865.98 1222.03,866.23 1223.22,865.65 1224.41,865.87 1225.6,866.59 1226.79,867.06 1227.98,866.36 1229.17,866.64 1230.36,866.77 1231.55,866.53 1232.74,865.99 1233.93,866.95 1235.12,869.03 1236.31,869.58 1237.5,868.81 1238.69,868.93 1239.88,869.82 1241.07,870.22 1242.27,869.05 1243.48,868.62 1244.69,869.44 1245.89,870.21 1247.1,870.3 1248.3,869.62 1249.51,870.48 1250.71,870.86 1251.92,871.16 1253.12,870.94 1254.33,871.35 1255.54,870.89 1256.74,871.03 1257.95,871.9 1259.15,872.48 1260.36,871.78 1261.56,870.69 1262.77,870.88 1263.97,871.47 1265.17,872.02 1266.38,872.12 1267.58,871.81 1268.79,872.11 1269.99,872.63 1271.2,873.25 1272.4,873.05" fill="none" stroke="#0a0503" stroke-width="5.3" stroke-linecap="round" stroke-linejoin="round"/>
<rect x="691.4" y="697.2" width="583.55" height="462.6" fill="none" stroke="#383838" stroke-width="1.9"/>
<line x1="726.25" y1="1159.8" x2="726.25" y2="1169.5" stroke="#1a1a1a" stroke-width="3.2" />
<line x1="800.95" y1="1159.8" x2="800.95" y2="1169.5" stroke="#1a1a1a" stroke-width="3.2" />
<line x1="875.65" y1="1159.8" x2="875.65" y2="1169.5" stroke="#1a1a1a" stroke-width="3.2" />
<line x1="950.35" y1="1159.8" x2="950.35" y2="1169.5" stroke="#1a1a1a" stroke-width="3.2" />
<line x1="1025.05" y1="1159.8" x2="1025.05" y2="1169.5" stroke="#1a1a1a" stroke-width="3.2" />
<line x1="1099.75" y1="1159.8" x2="1099.75" y2="1169.5" stroke="#1a1a1a" stroke-width="3.2" />
<line x1="1174.45" y1="1159.8" x2="1174.45" y2="1169.5" stroke="#1a1a1a" stroke-width="3.2" />
<line x1="1249.15" y1="1159.8" x2="1249.15" y2="1169.5" stroke="#1a1a1a" stroke-width="3.2" />
<line x1="681.7" y1="718" x2="691.4" y2="718" stroke="#1a1a1a" stroke-width="3.2" />
<line x1="681.7" y1="838.3" x2="691.4" y2="838.3" stroke="#1a1a1a" stroke-width="3.2" />
<line x1="681.7" y1="958.7" x2="691.4" y2="958.7" stroke="#1a1a1a" stroke-width="3.2" />
<line x1="681.7" y1="1079.2" x2="691.4" y2="1079.2" stroke="#1a1a1a" stroke-width="3.2" />
<line x1="772.2" y1="1113.2" x2="1100" y2="1005.2" stroke="#377eb8" stroke-width="4.3" stroke-dasharray="17.7 11.6"/>
<rect x="719.7" y="869.7" width="53.9" height="256.9" fill="none" stroke="#ff7f00" stroke-width="4.4"/>
<line x1="775.5" y1="997.3" x2="1307.34" y2="809.33" stroke="#ff7f00" stroke-width="3.7" />
<polygon points="1329.5,801.5 1309.62,821.78 1301.29,798.21" fill="#ff7f00"/>
<text transform="translate(1002.75,1082.4) scale(0.895,1)" font-family="'Liberation Serif', 'DejaVu Serif', serif" font-size="34" font-style="normal" fill="#377eb8" stroke="#377eb8" stroke-width="0.7">Δ</text>
<text transform="translate(1024.72,1082.4) scale(0.891,1)" font-family="'Liberation Serif', 'DejaVu Serif', serif" font-size="34" font-style="italic" fill="#377eb8" stroke="#377eb8" stroke-width="0.7">E</text>
<text transform="translate(1042.18,1089.6) scale(0.926,1)" font-family="'Liberation Serif', 'DejaVu Serif', serif" font-size="23.4" font-style="italic" fill="#377eb8" stroke="#377eb8" stroke-width="0.7">O</text>
<text transform="translate(1059.44,1089.6) scale(0.854,1)" font-family="'Liberation Serif', 'DejaVu Serif', serif" font-size="23.4" font-style="italic" fill="#377eb8" stroke="#377eb8" stroke-width="0.7">C</text>
<line x1="1002.55" y1="1098.3" x2="1075.85" y2="1098.3" stroke="#377eb8" stroke-width="2.7" />
<text transform="translate(1017.29,1130) scale(0.910,1)" font-family="'Liberation Serif', 'DejaVu Serif', serif" font-size="34" font-style="normal" fill="#377eb8" stroke="#377eb8" stroke-width="0.7">Δ</text>
<text transform="translate(1037.7,1130) scale(1.154,1)" font-family="'Liberation Serif', 'DejaVu Serif', serif" font-size="35" font-style="italic" fill="#377eb8" stroke="#377eb8" stroke-width="0.3">t</text>
<text transform="translate(1050.77,1136.9) scale(0.840,1)" font-family="'Liberation Serif', 'DejaVu Serif', serif" font-size="23.8" font-style="italic" fill="#377eb8" stroke="#377eb8" stroke-width="0.7">I</text>
<text x="670.8" y="727.5" font-family="'Liberation Sans', Arial, Helvetica, sans-serif" font-size="26.8" fill="#333333" text-anchor="end" font-weight="normal" font-style="normal" stroke="#333333" stroke-width="0.2">3.82</text>
<text x="670.8" y="847.8" font-family="'Liberation Sans', Arial, Helvetica, sans-serif" font-size="26.8" fill="#333333" text-anchor="end" font-weight="normal" font-style="normal" stroke="#333333" stroke-width="0.2">3.81</text>
<text x="670.8" y="968.2" font-family="'Liberation Sans', Arial, Helvetica, sans-serif" font-size="26.8" fill="#333333" text-anchor="end" font-weight="normal" font-style="normal" stroke="#333333" stroke-width="0.2">3.80</text>
<text x="670.8" y="1088.7" font-family="'Liberation Sans', Arial, Helvetica, sans-serif" font-size="26.8" fill="#333333" text-anchor="end" font-weight="normal" font-style="normal" stroke="#333333" stroke-width="0.2">3.79</text>
<text transform="translate(725.65,1201) scale(0.968,1)" font-family="'Liberation Sans', Arial, Helvetica, sans-serif" font-size="26.8" fill="#333333" text-anchor="middle" stroke="#333333" stroke-width="0.2">0</text>
<text transform="translate(800.35,1201) scale(0.968,1)" font-family="'Liberation Sans', Arial, Helvetica, sans-serif" font-size="26.8" fill="#333333" text-anchor="middle" stroke="#333333" stroke-width="0.2">1000</text>
<text transform="translate(875.05,1201) scale(0.968,1)" font-family="'Liberation Sans', Arial, Helvetica, sans-serif" font-size="26.8" fill="#333333" text-anchor="middle" stroke="#333333" stroke-width="0.2">2000</text>
<text transform="translate(949.75,1201) scale(0.968,1)" font-family="'Liberation Sans', Arial, Helvetica, sans-serif" font-size="26.8" fill="#333333" text-anchor="middle" stroke="#333333" stroke-width="0.2">3000</text>
<text transform="translate(1024.45,1201) scale(0.968,1)" font-family="'Liberation Sans', Arial, Helvetica, sans-serif" font-size="26.8" fill="#333333" text-anchor="middle" stroke="#333333" stroke-width="0.2">4000</text>
<text transform="translate(1099.15,1201) scale(0.968,1)" font-family="'Liberation Sans', Arial, Helvetica, sans-serif" font-size="26.8" fill="#333333" text-anchor="middle" stroke="#333333" stroke-width="0.2">5000</text>
<text transform="translate(1173.85,1201) scale(0.968,1)" font-family="'Liberation Sans', Arial, Helvetica, sans-serif" font-size="26.8" fill="#333333" text-anchor="middle" stroke="#333333" stroke-width="0.2">6000</text>
<text transform="translate(1248.55,1201) scale(0.968,1)" font-family="'Liberation Sans', Arial, Helvetica, sans-serif" font-size="26.8" fill="#333333" text-anchor="middle" stroke="#333333" stroke-width="0.2">7000</text>
<text transform="translate(593,963.89) rotate(-90) scale(0.914,1)" font-family="'Liberation Sans', Arial, Helvetica, sans-serif" font-size="35" fill="#333333" stroke="#333333" stroke-width="0.2">E / V</text>
<text transform="translate(955.68,1248.9) scale(1.0,1)" font-family="'Liberation Sans', Arial, Helvetica, sans-serif" font-size="34.5" fill="#333333" stroke="#333333" stroke-width="0.2">t</text>
<text transform="translate(974,1249.4) skewX(-6.2)" font-family="'Liberation Sans', Arial, Helvetica, sans-serif" font-size="34.5" fill="#333333" stroke="#333333" stroke-width="0.2">/</text>
<text transform="translate(994.84,1248.9) scale(1.0,1)" font-family="'Liberation Sans', Arial, Helvetica, sans-serif" font-size="34.5" fill="#333333" stroke="#333333" stroke-width="0.2">s</text>
</g>
<g id="panel-f">
<text x="1309.53" y="716.3" font-family="'Liberation Sans', Arial, Helvetica, sans-serif" font-size="27.5" fill="#000" text-anchor="start" font-weight="bold" font-style="normal" >f</text>
<rect x="1434.5" y="699.4" width="568.1" height="447.2" fill="#fafafa" />
<line x1="1503.25" y1="699.4" x2="1503.25" y2="1146.6" stroke="#e7e7e7" stroke-width="1.8" />
<line x1="1590" y1="699.4" x2="1590" y2="1146.6" stroke="#e7e7e7" stroke-width="1.8" />
<line x1="1977.75" y1="699.4" x2="1977.75" y2="1146.6" stroke="#e7e7e7" stroke-width="1.8" />
<line x1="1434.5" y1="757.5" x2="2002.6" y2="757.5" stroke="#e7e7e7" stroke-width="1.8" />
<line x1="1434.5" y1="888.7" x2="2002.6" y2="888.7" stroke="#e7e7e7" stroke-width="1.8" />
<line x1="1434.5" y1="1019.3" x2="2002.6" y2="1019.3" stroke="#e7e7e7" stroke-width="1.8" />
<line x1="1503.6" y1="1096" x2="1590" y2="1049.6" stroke="#ff9a3c" stroke-width="4.4" stroke-dasharray="15.6 14.2" stroke-opacity="0.9"/>
<path d="M1457.5,1127a2,2 0 1,0 4,0a2,2 0 1,0 -4,0zM1491,1100a2,2 0 1,0 4,0a2,2 0 1,0 -4,0zM1513.75,1087.5a2,2 0 1,0 4,0a2,2 0 1,0 -4,0zM1530.5,1080.75a2,2 0 1,0 4,0a2,2 0 1,0 -4,0zM1544.25,1073.75a2,2 0 1,0 4,0a2,2 0 1,0 -4,0zM1555.5,1067.5a2,2 0 1,0 4,0a2,2 0 1,0 -4,0zM1566.25,1062a2,2 0 1,0 4,0a2,2 0 1,0 -4,0zM1576,1057a2,2 0 1,0 4,0a2,2 0 1,0 -4,0zM1585.5,1051.25a2,2 0 1,0 4,0a2,2 0 1,0 -4,0zM1593.5,1042.5a2,2 0 1,0 4,0a2,2 0 1,0 -4,0zM1601.25,1037a2,2 0 1,0 4,0a2,2 0 1,0 -4,0zM1608.75,1038a2,2 0 1,0 4,0a2,2 0 1,0 -4,0zM1616,1031.75a2,2 0 1,0 4,0a2,2 0 1,0 -4,0zM1623,1030a2,2 0 1,0 4,0a2,2 0 1,0 -4,0zM1629.25,1027a2,2 0 1,0 4,0a2,2 0 1,0 -4,0zM1636,1024.5a2,2 0 1,0 4,0a2,2 0 1,0 -4,0zM1642,1020.5a2,2 0 1,0 4,0a2,2 0 1,0 -4,0zM1647.5,1010a2,2 0 1,0 4,0a2,2 0 1,0 -4,0zM1653,1008a2,2 0 1,0 4,0a2,2 0 1,0 -4,0zM1658.75,1002.5a2,2 0 1,0 4,0a2,2 0 1,0 -4,0zM1664.5,1005a2,2 0 1,0 4,0a2,2 0 1,0 -4,0zM1669.5,1000a2,2 0 1,0 4,0a2,2 0 1,0 -4,0zM1675,998.75a2,2 0 1,0 4,0a2,2 0 1,0 -4,0zM1682.26,996.6a2,2 0 1,0 4,0a2,2 0 1,0 -4,0zM1687.18,990a2,2 0 1,0 4,0a2,2 0 1,0 -4,0zM1691.99,986.7a2,2 0 1,0 4,0a2,2 0 1,0 -4,0zM1696.71,980.1a2,2 0 1,0 4,0a2,2 0 1,0 -4,0zM1701.34,980.1a2,2 0 1,0 4,0a2,2 0 1,0 -4,0zM1705.89,976.8a2,2 0 1,0 4,0a2,2 0 1,0 -4,0zM1710.35,973.5a2,2 0 1,0 4,0a2,2 0 1,0 -4,0zM1714.74,966.9a2,2 0 1,0 4,0a2,2 0 1,0 -4,0zM1719.06,966.9a2,2 0 1,0 4,0a2,2 0 1,0 -4,0zM1723.3,960.3a2,2 0 1,0 4,0a2,2 0 1,0 -4,0zM1727.49,957a2,2 0 1,0 4,0a2,2 0 1,0 -4,0zM1731.6,957a2,2 0 1,0 4,0a2,2 0 1,0 -4,0zM1735.66,953.7a2,2 0 1,0 4,0a2,2 0 1,0 -4,0zM1739.66,953.7a2,2 0 1,0 4,0a2,2 0 1,0 -4,0zM1743.61,947.1a2,2 0 1,0 4,0a2,2 0 1,0 -4,0zM1747.5,943.8a2,2 0 1,0 4,0a2,2 0 1,0 -4,0zM1751.34,940.5a2,2 0 1,0 4,0a2,2 0 1,0 -4,0zM1755.13,933.9a2,2 0 1,0 4,0a2,2 0 1,0 -4,0zM1758.88,933.9a2,2 0 1,0 4,0a2,2 0 1,0 -4,0zM1762.58,930.6a2,2 0 1,0 4,0a2,2 0 1,0 -4,0zM1766.23,927.3a2,2 0 1,0 4,0a2,2 0 1,0 -4,0zM1769.85,924a2,2 0 1,0 4,0a2,2 0 1,0 -4,0zM1773.42,924a2,2 0 1,0 4,0a2,2 0 1,0 -4,0zM1776.95,920.7a2,2 0 1,0 4,0a2,2 0 1,0 -4,0zM1780.45,914.1a2,2 0 1,0 4,0a2,2 0 1,0 -4,0zM1783.91,910.8a2,2 0 1,0 4,0a2,2 0 1,0 -4,0zM1787.33,910.8a2,2 0 1,0 4,0a2,2 0 1,0 -4,0zM1790.72,907.5a2,2 0 1,0 4,0a2,2 0 1,0 -4,0zM1794.07,904.2a2,2 0 1,0 4,0a2,2 0 1,0 -4,0zM1797.39,900.9a2,2 0 1,0 4,0a2,2 0 1,0 -4,0zM1800.68,900.9a2,2 0 1,0 4,0a2,2 0 1,0 -4,0zM1803.94,897.6a2,2 0 1,0 4,0a2,2 0 1,0 -4,0zM1807.17,891a2,2 0 1,0 4,0a2,2 0 1,0 -4,0zM1810.37,887.7a2,2 0 1,0 4,0a2,2 0 1,0 -4,0zM1813.54,884.4a2,2 0 1,0 4,0a2,2 0 1,0 -4,0zM1816.69,881.1a2,2 0 1,0 4,0a2,2 0 1,0 -4,0zM1819.8,881.1a2,2 0 1,0 4,0a2,2 0 1,0 -4,0zM1822.89,877.8a2,2 0 1,0 4,0a2,2 0 1,0 -4,0zM1825.96,877.8a2,2 0 1,0 4,0a2,2 0 1,0 -4,0zM1829,874.5a2,2 0 1,0 4,0a2,2 0 1,0 -4,0zM1832.01,867.9a2,2 0 1,0 4,0a2,2 0 1,0 -4,0zM1835,867.9a2,2 0 1,0 4,0a2,2 0 1,0 -4,0zM1837.97,864.6a2,2 0 1,0 4,0a2,2 0 1,0 -4,0zM1840.91,861.3a2,2 0 1,0 4,0a2,2 0 1,0 -4,0zM1843.84,858a2,2 0 1,0 4,0a2,2 0 1,0 -4,0zM1846.74,858a2,2 0 1,0 4,0a2,2 0 1,0 -4,0zM1849.62,854.7a2,2 0 1,0 4,0a2,2 0 1,0 -4,0zM1852.48,851.4a2,2 0 1,0 4,0a2,2 0 1,0 -4,0zM1855.32,844.8a2,2 0 1,0 4,0a2,2 0 1,0 -4,0zM1858.14,844.8a2,2 0 1,0 4,0a2,2 0 1,0 -4,0zM1860.93,844.8a2,2 0 1,0 4,0a2,2 0 1,0 -4,0zM1863.72,841.5a2,2 0 1,0 4,0a2,2 0 1,0 -4,0zM1866.48,841.5a2,2 0 1,0 4,0a2,2 0 1,0 -4,0zM1869.22,838.2a2,2 0 1,0 4,0a2,2 0 1,0 -4,0zM1871.94,834.9a2,2 0 1,0 4,0a2,2 0 1,0 -4,0zM1874.65,828.3a2,2 0 1,0 4,0a2,2 0 1,0 -4,0zM1877.34,831.6a2,2 0 1,0 4,0a2,2 0 1,0 -4,0zM1880.02,825a2,2 0 1,0 4,0a2,2 0 1,0 -4,0zM1882.67,821.7a2,2 0 1,0 4,0a2,2 0 1,0 -4,0zM1885.31,818.4a2,2 0 1,0 4,0a2,2 0 1,0 -4,0zM1887.94,818.4a2,2 0 1,0 4,0a2,2 0 1,0 -4,0zM1890.55,818.4a2,2 0 1,0 4,0a2,2 0 1,0 -4,0zM1893.14,811.8a2,2 0 1,0 4,0a2,2 0 1,0 -4,0zM1895.72,811.8a2,2 0 1,0 4,0a2,2 0 1,0 -4,0zM1898.28,805.2a2,2 0 1,0 4,0a2,2 0 1,0 -4,0zM1900.83,805.2a2,2 0 1,0 4,0a2,2 0 1,0 -4,0zM1903.36,801.9a2,2 0 1,0 4,0a2,2 0 1,0 -4,0zM1905.88,798.6a2,2 0 1,0 4,0a2,2 0 1,0 -4,0zM1908.39,798.6a2,2 0 1,0 4,0a2,2 0 1,0 -4,0zM1910.88,798.6a2,2 0 1,0 4,0a2,2 0 1,0 -4,0zM1913.36,788.7a2,2 0 1,0 4,0a2,2 0 1,0 -4,0zM1915.82,788.7a2,2 0 1,0 4,0a2,2 0 1,0 -4,0zM1918.27,785.4a2,2 0 1,0 4,0a2,2 0 1,0 -4,0zM1920.71,785.4a2,2 0 1,0 4,0a2,2 0 1,0 -4,0zM1923.14,782.1a2,2 0 1,0 4,0a2,2 0 1,0 -4,0zM1925.55,778.8a2,2 0 1,0 4,0a2,2 0 1,0 -4,0zM1927.95,775.5a2,2 0 1,0 4,0a2,2 0 1,0 -4,0zM1930.34,772.2a2,2 0 1,0 4,0a2,2 0 1,0 -4,0zM1932.72,768.9a2,2 0 1,0 4,0a2,2 0 1,0 -4,0zM1935.09,768.9a2,2 0 1,0 4,0a2,2 0 1,0 -4,0zM1937.44,762.3a2,2 0 1,0 4,0a2,2 0 1,0 -4,0zM1939.78,762.3a2,2 0 1,0 4,0a2,2 0 1,0 -4,0zM1942.12,759a2,2 0 1,0 4,0a2,2 0 1,0 -4,0zM1944.44,755.7a2,2 0 1,0 4,0a2,2 0 1,0 -4,0zM1946.75,755.7a2,2 0 1,0 4,0a2,2 0 1,0 -4,0zM1949.05,752.4a2,2 0 1,0 4,0a2,2 0 1,0 -4,0zM1951.33,749.1a2,2 0 1,0 4,0a2,2 0 1,0 -4,0zM1953.61,745.8a2,2 0 1,0 4,0a2,2 0 1,0 -4,0zM1955.88,739.2a2,2 0 1,0 4,0a2,2 0 1,0 -4,0zM1958.14,739.2a2,2 0 1,0 4,0a2,2 0 1,0 -4,0zM1960.38,735.9a2,2 0 1,0 4,0a2,2 0 1,0 -4,0zM1962.62,735.9a2,2 0 1,0 4,0a2,2 0 1,0 -4,0zM1964.85,732.6a2,2 0 1,0 4,0a2,2 0 1,0 -4,0zM1967.07,729.3a2,2 0 1,0 4,0a2,2 0 1,0 -4,0zM1969.28,726a2,2 0 1,0 4,0a2,2 0 1,0 -4,0zM1971.47,726a2,2 0 1,0 4,0a2,2 0 1,0 -4,0zM1973.66,722.7a2,2 0 1,0 4,0a2,2 0 1,0 -4,0zM1975.84,719.4a2,2 0 1,0 4,0a2,2 0 1,0 -4,0z" fill="#0a0503"/>
<text transform="translate(1523.82,940.85) scale(1.003,1)" font-family="'Liberation Serif', 'DejaVu Serif', serif" font-size="34" font-style="italic" fill="#ff7f00" stroke="#ff7f00" stroke-width="0.7">d</text>
<text transform="translate(1544.18,940.85) scale(0.905,1)" font-family="'Liberation Serif', 'DejaVu Serif', serif" font-size="34" font-style="italic" fill="#ff7f00" stroke="#ff7f00" stroke-width="0.7">E</text>
<line x1="1515.6" y1="956.3" x2="1571.8" y2="956.3" stroke="#ff7f00" stroke-width="2.7" />
<text transform="translate(1516.41,992.05) scale(1.015,1)" font-family="'Liberation Serif', 'DejaVu Serif', serif" font-size="34" font-style="italic" fill="#ff7f00" stroke="#ff7f00" stroke-width="0.7">d</text>
<text transform="translate(1535.67,994.83) scale(0.935,1)" font-family="'DejaVu Sans', 'Liberation Sans', sans-serif" font-size="38.26" fill="#ff7f00" stroke="#ff7f00" stroke-width="0.5">√</text>
<line x1="1556.9" y1="964.65" x2="1571.8" y2="964.65" stroke="#ff7f00" stroke-width="2.2" />
<text transform="translate(1558.27,992.05) scale(1.176,1)" font-family="'Liberation Serif', 'DejaVu Serif', serif" font-size="35" font-style="italic" fill="#ff7f00" stroke="#ff7f00" stroke-width="0.3">t</text>
<rect x="1434.5" y="699.4" width="568.1" height="447.2" fill="none" stroke="#383838" stroke-width="1.9"/>
<line x1="1503.25" y1="1146.6" x2="1503.25" y2="1156.3" stroke="#1a1a1a" stroke-width="3.2" />
<line x1="1590" y1="1146.6" x2="1590" y2="1156.3" stroke="#1a1a1a" stroke-width="3.2" />
<line x1="1977.75" y1="1146.6" x2="1977.75" y2="1156.3" stroke="#1a1a1a" stroke-width="3.2" />
<line x1="1424.8" y1="757.5" x2="1434.5" y2="757.5" stroke="#1a1a1a" stroke-width="3.2" />
<line x1="1424.8" y1="888.7" x2="1434.5" y2="888.7" stroke="#1a1a1a" stroke-width="3.2" />
<line x1="1424.8" y1="1019.3" x2="1434.5" y2="1019.3" stroke="#1a1a1a" stroke-width="3.2" />
<text x="1410.8" y="767" font-family="'Liberation Sans', Arial, Helvetica, sans-serif" font-size="26.8" fill="#333333" text-anchor="end" font-weight="normal" font-style="normal" stroke="#333333" stroke-width="0.2">3.805</text>
<text x="1410.8" y="898.2" font-family="'Liberation Sans', Arial, Helvetica, sans-serif" font-size="26.8" fill="#333333" text-anchor="end" font-weight="normal" font-style="normal" stroke="#333333" stroke-width="0.2">3.800</text>
<text x="1410.8" y="1028.8" font-family="'Liberation Sans', Arial, Helvetica, sans-serif" font-size="26.8" fill="#333333" text-anchor="end" font-weight="normal" font-style="normal" stroke="#333333" stroke-width="0.2">3.795</text>
<text transform="translate(1486.56,1192.83) scale(0.779,1)" font-family="'Liberation Sans', Arial, Helvetica, sans-serif" font-size="32.21" fill="#333333" stroke="#333333" stroke-width="0.1">√</text>
<line x1="1499.45" y1="1168.1" x2="1517.95" y2="1168.1" stroke="#5a5a5a" stroke-width="1.8" />
<text x="1499.98" y="1192.5" font-family="'Liberation Sans', Arial, Helvetica, sans-serif" font-size="26.8" fill="#333333" text-anchor="start" font-weight="normal" font-style="normal" stroke="#333333" stroke-width="0.2">5</text>
<text transform="translate(1565.86,1192.83) scale(0.779,1)" font-family="'Liberation Sans', Arial, Helvetica, sans-serif" font-size="32.21" fill="#333333" stroke="#333333" stroke-width="0.1">√</text>
<line x1="1578.75" y1="1168.1" x2="1612.15" y2="1168.1" stroke="#5a5a5a" stroke-width="1.8" />
<text x="1579.73" y="1192.5" font-family="'Liberation Sans', Arial, Helvetica, sans-serif" font-size="26.8" fill="#333333" text-anchor="start" font-weight="normal" font-style="normal" stroke="#333333" stroke-width="0.2">40</text>
<text transform="translate(1946.16,1192.83) scale(0.779,1)" font-family="'Liberation Sans', Arial, Helvetica, sans-serif" font-size="32.21" fill="#333333" stroke="#333333" stroke-width="0.1">√</text>
<line x1="1959.05" y1="1168.1" x2="2007.35" y2="1168.1" stroke="#5a5a5a" stroke-width="1.8" />
<text x="1959.29" y="1192.5" font-family="'Liberation Sans', Arial, Helvetica, sans-serif" font-size="26.8" fill="#333333" text-anchor="start" font-weight="normal" font-style="normal" stroke="#333333" stroke-width="0.2">600</text>
<text transform="translate(1321,958.89) rotate(-90) scale(0.914,1)" font-family="'Liberation Sans', Arial, Helvetica, sans-serif" font-size="35" fill="#333333" stroke="#333333" stroke-width="0.2">E / V</text>
<text transform="translate(1649.98,1250.2) scale(1.0,1)" font-family="'Liberation Sans', Arial, Helvetica, sans-serif" font-size="34.5" fill="#333333" stroke="#333333" stroke-width="0.2">t</text>
<text transform="translate(1660.91,1234.9) scale(0.89,1)" font-family="'Liberation Sans', Arial, Helvetica, sans-serif" font-size="25.6" fill="#333333" stroke="#333333" stroke-width="0.2">0.5</text>
<text transform="translate(1700.7,1250.7) skewX(-6.2)" font-family="'Liberation Sans', Arial, Helvetica, sans-serif" font-size="34.5" fill="#333333" stroke="#333333" stroke-width="0.2">/</text>
<text transform="translate(1720.74,1250.2) scale(1.0,1)" font-family="'Liberation Sans', Arial, Helvetica, sans-serif" font-size="34.5" fill="#333333" stroke="#333333" stroke-width="0.2">s</text>
<text transform="translate(1746.21,1234.9) scale(0.89,1)" font-family="'Liberation Sans', Arial, Helvetica, sans-serif" font-size="25.6" fill="#333333" stroke="#333333" stroke-width="0.2">0.5</text>
</g>
</svg>
</body>
</html>
